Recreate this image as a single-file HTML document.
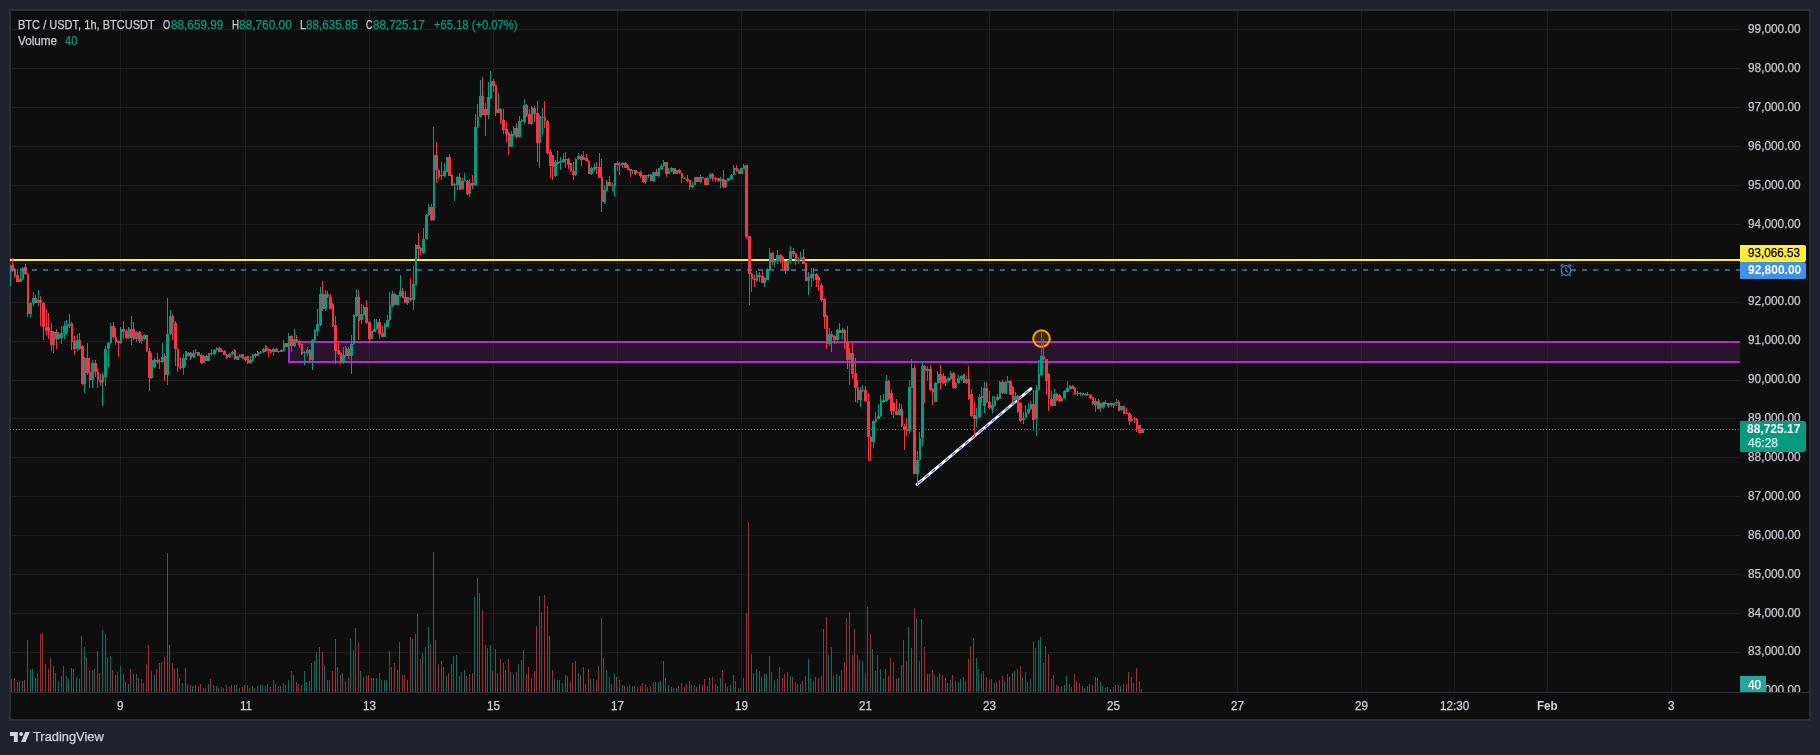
<!DOCTYPE html>
<html><head><meta charset="utf-8"><title>BTCUSDT</title>
<style>
html,body{margin:0;padding:0;background:#1e222d;}
body{width:1820px;height:755px;overflow:hidden;position:relative;font-family:"Liberation Sans",sans-serif;}
#chart{position:absolute;left:9px;top:9px;width:1798px;height:708px;border:2px solid #2a2e39;background:#0e0e0e;}
svg{position:absolute;left:0;top:0;}
#labels{position:absolute;left:0;top:0;width:1820px;height:755px;will-change:transform;}
.t{position:absolute;white-space:nowrap;font-size:12px;line-height:1.1667em;color:#d1d4dc;-webkit-text-stroke:0.25px currentColor;}
.g{color:#089981;}
.pl{position:absolute;left:1748px;font-size:12px;line-height:14px;color:#c9ccd4;white-space:nowrap;}
.tl{position:absolute;top:699px;font-size:12px;line-height:14px;color:#d1d4dc;transform:translateX(-50%);white-space:nowrap;}
.lab{position:absolute;left:1740px;width:66px;box-sizing:border-box;padding-left:8px;font-size:12px;line-height:14px;white-space:nowrap;}
</style></head><body>
<div id="chart"></div>
<svg width="1820" height="755" viewBox="0 0 1820 755" shape-rendering="crispEdges">
<rect x="11" y="29" width="1729" height="1" fill="rgba(255,255,255,0.058)"/>
<rect x="11" y="68" width="1729" height="1" fill="rgba(255,255,255,0.058)"/>
<rect x="11" y="107" width="1729" height="1" fill="rgba(255,255,255,0.058)"/>
<rect x="11" y="146" width="1729" height="1" fill="rgba(255,255,255,0.058)"/>
<rect x="11" y="185" width="1729" height="1" fill="rgba(255,255,255,0.058)"/>
<rect x="11" y="224" width="1729" height="1" fill="rgba(255,255,255,0.058)"/>
<rect x="11" y="263" width="1729" height="1" fill="rgba(255,255,255,0.058)"/>
<rect x="11" y="302" width="1729" height="1" fill="rgba(255,255,255,0.058)"/>
<rect x="11" y="341" width="1729" height="1" fill="rgba(255,255,255,0.058)"/>
<rect x="11" y="380" width="1729" height="1" fill="rgba(255,255,255,0.058)"/>
<rect x="11" y="418" width="1729" height="1" fill="rgba(255,255,255,0.058)"/>
<rect x="11" y="457" width="1729" height="1" fill="rgba(255,255,255,0.058)"/>
<rect x="11" y="496" width="1729" height="1" fill="rgba(255,255,255,0.058)"/>
<rect x="11" y="535" width="1729" height="1" fill="rgba(255,255,255,0.058)"/>
<rect x="11" y="574" width="1729" height="1" fill="rgba(255,255,255,0.058)"/>
<rect x="11" y="613" width="1729" height="1" fill="rgba(255,255,255,0.058)"/>
<rect x="11" y="652" width="1729" height="1" fill="rgba(255,255,255,0.058)"/>
<rect x="120" y="11" width="1" height="681" fill="rgba(255,255,255,0.058)"/>
<rect x="245" y="11" width="1" height="681" fill="rgba(255,255,255,0.058)"/>
<rect x="369" y="11" width="1" height="681" fill="rgba(255,255,255,0.058)"/>
<rect x="493" y="11" width="1" height="681" fill="rgba(255,255,255,0.058)"/>
<rect x="617" y="11" width="1" height="681" fill="rgba(255,255,255,0.058)"/>
<rect x="741" y="11" width="1" height="681" fill="rgba(255,255,255,0.058)"/>
<rect x="865" y="11" width="1" height="681" fill="rgba(255,255,255,0.058)"/>
<rect x="989" y="11" width="1" height="681" fill="rgba(255,255,255,0.058)"/>
<rect x="1113" y="11" width="1" height="681" fill="rgba(255,255,255,0.058)"/>
<rect x="1237" y="11" width="1" height="681" fill="rgba(255,255,255,0.058)"/>
<rect x="1361" y="11" width="1" height="681" fill="rgba(255,255,255,0.058)"/>
<rect x="1454" y="11" width="1" height="681" fill="rgba(255,255,255,0.058)"/>
<rect x="1547" y="11" width="1" height="681" fill="rgba(255,255,255,0.058)"/>
<rect x="1671" y="11" width="1" height="681" fill="rgba(255,255,255,0.058)"/>
<rect x="289" y="342" width="1451" height="20" fill="rgba(160,40,180,0.19)"/>
<rect x="288" y="341" width="1452" height="2" fill="#ad2ec4"/>
<rect x="288" y="361" width="1452" height="2" fill="#ad2ec4"/>
<rect x="288" y="341" width="2" height="22" fill="#ad2ec4"/>
<rect x="10" y="259" width="1730" height="2" fill="#ffeb3b"/>
<g shape-rendering="geometricPrecision">
<line x1="917" y1="484.4" x2="1031" y2="388.6" stroke="#ffffff" stroke-width="2.7" stroke-linecap="round"/>
<line x1="917" y1="484.4" x2="1031" y2="388.6" stroke="#3f72ff" stroke-width="1.3" stroke-dasharray="4.5 4.2" stroke-dashoffset="-2"/>
<circle cx="1041.5" cy="338.6" r="8.3" fill="rgba(255,152,0,0.20)" stroke="#ff9f0a" stroke-width="2"/>
</g>

<rect x="11" y="679" width="1" height="13" fill="#93343b"/>
<rect x="14" y="678" width="1" height="14" fill="#93343b"/>
<rect x="17" y="682" width="1" height="10" fill="#93343b"/>
<rect x="19" y="681" width="1" height="11" fill="#1a6b5f"/>
<rect x="22" y="681" width="1" height="11" fill="#1a6b5f"/>
<rect x="24" y="680" width="1" height="12" fill="#93343b"/>
<rect x="27" y="640" width="1" height="52" fill="#93343b"/>
<rect x="30" y="669" width="1" height="23" fill="#1a6b5f"/>
<rect x="32" y="669" width="1" height="23" fill="#1a6b5f"/>
<rect x="35" y="678" width="1" height="14" fill="#93343b"/>
<rect x="37" y="673" width="1" height="19" fill="#1a6b5f"/>
<rect x="40" y="634" width="1" height="58" fill="#93343b"/>
<rect x="42" y="633" width="1" height="59" fill="#93343b"/>
<rect x="45" y="664" width="1" height="28" fill="#93343b"/>
<rect x="48" y="669" width="1" height="23" fill="#93343b"/>
<rect x="50" y="658" width="1" height="34" fill="#93343b"/>
<rect x="53" y="666" width="1" height="26" fill="#1a6b5f"/>
<rect x="55" y="673" width="1" height="19" fill="#93343b"/>
<rect x="58" y="681" width="1" height="11" fill="#1a6b5f"/>
<rect x="61" y="676" width="1" height="16" fill="#1a6b5f"/>
<rect x="63" y="666" width="1" height="26" fill="#1a6b5f"/>
<rect x="66" y="676" width="1" height="16" fill="#1a6b5f"/>
<rect x="68" y="679" width="1" height="13" fill="#1a6b5f"/>
<rect x="71" y="668" width="1" height="24" fill="#93343b"/>
<rect x="73" y="669" width="1" height="23" fill="#93343b"/>
<rect x="76" y="677" width="1" height="15" fill="#1a6b5f"/>
<rect x="79" y="679" width="1" height="13" fill="#93343b"/>
<rect x="81" y="636" width="1" height="56" fill="#93343b"/>
<rect x="84" y="647" width="1" height="45" fill="#1a6b5f"/>
<rect x="86" y="657" width="1" height="35" fill="#93343b"/>
<rect x="89" y="670" width="1" height="22" fill="#93343b"/>
<rect x="92" y="670" width="1" height="22" fill="#1a6b5f"/>
<rect x="94" y="669" width="1" height="23" fill="#93343b"/>
<rect x="97" y="651" width="1" height="41" fill="#93343b"/>
<rect x="99" y="673" width="1" height="19" fill="#93343b"/>
<rect x="102" y="630" width="1" height="62" fill="#1a6b5f"/>
<rect x="105" y="634" width="1" height="58" fill="#1a6b5f"/>
<rect x="107" y="657" width="1" height="35" fill="#1a6b5f"/>
<rect x="110" y="656" width="1" height="36" fill="#1a6b5f"/>
<rect x="112" y="670" width="1" height="22" fill="#93343b"/>
<rect x="115" y="675" width="1" height="17" fill="#93343b"/>
<rect x="117" y="672" width="1" height="20" fill="#93343b"/>
<rect x="120" y="666" width="1" height="26" fill="#1a6b5f"/>
<rect x="123" y="674" width="1" height="18" fill="#93343b"/>
<rect x="125" y="682" width="1" height="10" fill="#93343b"/>
<rect x="128" y="684" width="1" height="8" fill="#1a6b5f"/>
<rect x="130" y="669" width="1" height="23" fill="#93343b"/>
<rect x="133" y="674" width="1" height="18" fill="#93343b"/>
<rect x="136" y="674" width="1" height="18" fill="#1a6b5f"/>
<rect x="138" y="678" width="1" height="14" fill="#93343b"/>
<rect x="141" y="679" width="1" height="13" fill="#1a6b5f"/>
<rect x="143" y="683" width="1" height="9" fill="#1a6b5f"/>
<rect x="146" y="664" width="1" height="28" fill="#93343b"/>
<rect x="148" y="645" width="1" height="47" fill="#93343b"/>
<rect x="151" y="671" width="1" height="21" fill="#1a6b5f"/>
<rect x="154" y="675" width="1" height="17" fill="#1a6b5f"/>
<rect x="156" y="669" width="1" height="23" fill="#93343b"/>
<rect x="159" y="663" width="1" height="29" fill="#93343b"/>
<rect x="161" y="662" width="1" height="30" fill="#1a6b5f"/>
<rect x="164" y="657" width="1" height="35" fill="#93343b"/>
<rect x="167" y="553" width="1" height="139" fill="#1a6b5f"/>
<rect x="169" y="645" width="1" height="47" fill="#1a6b5f"/>
<rect x="172" y="663" width="1" height="29" fill="#93343b"/>
<rect x="174" y="669" width="1" height="23" fill="#93343b"/>
<rect x="177" y="668" width="1" height="24" fill="#93343b"/>
<rect x="179" y="678" width="1" height="14" fill="#93343b"/>
<rect x="182" y="683" width="1" height="9" fill="#1a6b5f"/>
<rect x="185" y="668" width="1" height="24" fill="#1a6b5f"/>
<rect x="187" y="684" width="1" height="8" fill="#1a6b5f"/>
<rect x="190" y="685" width="1" height="7" fill="#93343b"/>
<rect x="192" y="686" width="1" height="6" fill="#1a6b5f"/>
<rect x="195" y="685" width="1" height="7" fill="#1a6b5f"/>
<rect x="198" y="686" width="1" height="6" fill="#93343b"/>
<rect x="200" y="684" width="1" height="8" fill="#93343b"/>
<rect x="203" y="688" width="1" height="4" fill="#1a6b5f"/>
<rect x="205" y="688" width="1" height="4" fill="#93343b"/>
<rect x="208" y="684" width="1" height="8" fill="#1a6b5f"/>
<rect x="210" y="679" width="1" height="13" fill="#93343b"/>
<rect x="213" y="685" width="1" height="7" fill="#1a6b5f"/>
<rect x="216" y="686" width="1" height="6" fill="#1a6b5f"/>
<rect x="218" y="688" width="1" height="4" fill="#93343b"/>
<rect x="221" y="687" width="1" height="5" fill="#1a6b5f"/>
<rect x="223" y="688" width="1" height="4" fill="#93343b"/>
<rect x="226" y="685" width="1" height="7" fill="#93343b"/>
<rect x="229" y="687" width="1" height="5" fill="#1a6b5f"/>
<rect x="231" y="685" width="1" height="7" fill="#1a6b5f"/>
<rect x="234" y="685" width="1" height="7" fill="#93343b"/>
<rect x="236" y="685" width="1" height="7" fill="#1a6b5f"/>
<rect x="239" y="688" width="1" height="4" fill="#1a6b5f"/>
<rect x="242" y="687" width="1" height="5" fill="#93343b"/>
<rect x="244" y="685" width="1" height="7" fill="#93343b"/>
<rect x="247" y="685" width="1" height="7" fill="#93343b"/>
<rect x="249" y="688" width="1" height="4" fill="#1a6b5f"/>
<rect x="252" y="686" width="1" height="6" fill="#1a6b5f"/>
<rect x="254" y="688" width="1" height="4" fill="#93343b"/>
<rect x="257" y="686" width="1" height="6" fill="#1a6b5f"/>
<rect x="260" y="685" width="1" height="7" fill="#1a6b5f"/>
<rect x="262" y="685" width="1" height="7" fill="#1a6b5f"/>
<rect x="265" y="686" width="1" height="6" fill="#93343b"/>
<rect x="267" y="684" width="1" height="8" fill="#93343b"/>
<rect x="270" y="687" width="1" height="5" fill="#93343b"/>
<rect x="273" y="680" width="1" height="12" fill="#1a6b5f"/>
<rect x="275" y="684" width="1" height="8" fill="#93343b"/>
<rect x="278" y="686" width="1" height="6" fill="#93343b"/>
<rect x="280" y="686" width="1" height="6" fill="#1a6b5f"/>
<rect x="283" y="683" width="1" height="9" fill="#1a6b5f"/>
<rect x="285" y="685" width="1" height="7" fill="#93343b"/>
<rect x="288" y="680" width="1" height="12" fill="#1a6b5f"/>
<rect x="291" y="671" width="1" height="21" fill="#93343b"/>
<rect x="293" y="675" width="1" height="17" fill="#1a6b5f"/>
<rect x="296" y="682" width="1" height="10" fill="#93343b"/>
<rect x="298" y="684" width="1" height="8" fill="#93343b"/>
<rect x="301" y="685" width="1" height="7" fill="#93343b"/>
<rect x="304" y="671" width="1" height="21" fill="#1a6b5f"/>
<rect x="306" y="682" width="1" height="10" fill="#1a6b5f"/>
<rect x="309" y="681" width="1" height="11" fill="#93343b"/>
<rect x="311" y="663" width="1" height="29" fill="#1a6b5f"/>
<rect x="314" y="661" width="1" height="31" fill="#1a6b5f"/>
<rect x="316" y="652" width="1" height="40" fill="#1a6b5f"/>
<rect x="319" y="647" width="1" height="45" fill="#1a6b5f"/>
<rect x="322" y="652" width="1" height="40" fill="#93343b"/>
<rect x="324" y="665" width="1" height="27" fill="#1a6b5f"/>
<rect x="327" y="680" width="1" height="12" fill="#93343b"/>
<rect x="329" y="680" width="1" height="12" fill="#93343b"/>
<rect x="332" y="671" width="1" height="21" fill="#93343b"/>
<rect x="335" y="639" width="1" height="53" fill="#93343b"/>
<rect x="337" y="667" width="1" height="25" fill="#93343b"/>
<rect x="340" y="675" width="1" height="17" fill="#93343b"/>
<rect x="342" y="673" width="1" height="19" fill="#1a6b5f"/>
<rect x="345" y="681" width="1" height="11" fill="#1a6b5f"/>
<rect x="348" y="678" width="1" height="14" fill="#93343b"/>
<rect x="350" y="639" width="1" height="53" fill="#1a6b5f"/>
<rect x="353" y="650" width="1" height="42" fill="#1a6b5f"/>
<rect x="355" y="628" width="1" height="64" fill="#1a6b5f"/>
<rect x="358" y="642" width="1" height="50" fill="#93343b"/>
<rect x="360" y="671" width="1" height="21" fill="#1a6b5f"/>
<rect x="363" y="677" width="1" height="15" fill="#1a6b5f"/>
<rect x="366" y="676" width="1" height="16" fill="#93343b"/>
<rect x="368" y="675" width="1" height="17" fill="#93343b"/>
<rect x="371" y="678" width="1" height="14" fill="#1a6b5f"/>
<rect x="373" y="678" width="1" height="14" fill="#1a6b5f"/>
<rect x="376" y="678" width="1" height="14" fill="#1a6b5f"/>
<rect x="379" y="673" width="1" height="19" fill="#93343b"/>
<rect x="381" y="680" width="1" height="12" fill="#93343b"/>
<rect x="384" y="680" width="1" height="12" fill="#1a6b5f"/>
<rect x="386" y="680" width="1" height="12" fill="#1a6b5f"/>
<rect x="389" y="651" width="1" height="41" fill="#1a6b5f"/>
<rect x="391" y="667" width="1" height="25" fill="#1a6b5f"/>
<rect x="394" y="663" width="1" height="29" fill="#93343b"/>
<rect x="397" y="670" width="1" height="22" fill="#1a6b5f"/>
<rect x="399" y="642" width="1" height="50" fill="#1a6b5f"/>
<rect x="402" y="675" width="1" height="17" fill="#93343b"/>
<rect x="404" y="675" width="1" height="17" fill="#93343b"/>
<rect x="407" y="680" width="1" height="12" fill="#1a6b5f"/>
<rect x="410" y="637" width="1" height="55" fill="#93343b"/>
<rect x="412" y="639" width="1" height="53" fill="#1a6b5f"/>
<rect x="415" y="634" width="1" height="58" fill="#1a6b5f"/>
<rect x="417" y="614" width="1" height="78" fill="#93343b"/>
<rect x="420" y="659" width="1" height="33" fill="#93343b"/>
<rect x="422" y="653" width="1" height="39" fill="#1a6b5f"/>
<rect x="425" y="647" width="1" height="45" fill="#1a6b5f"/>
<rect x="428" y="627" width="1" height="65" fill="#1a6b5f"/>
<rect x="430" y="644" width="1" height="48" fill="#93343b"/>
<rect x="433" y="552" width="1" height="140" fill="#1a6b5f"/>
<rect x="435" y="640" width="1" height="52" fill="#93343b"/>
<rect x="438" y="664" width="1" height="28" fill="#93343b"/>
<rect x="441" y="661" width="1" height="31" fill="#1a6b5f"/>
<rect x="443" y="667" width="1" height="25" fill="#1a6b5f"/>
<rect x="446" y="676" width="1" height="16" fill="#1a6b5f"/>
<rect x="448" y="673" width="1" height="19" fill="#93343b"/>
<rect x="451" y="664" width="1" height="28" fill="#93343b"/>
<rect x="453" y="656" width="1" height="36" fill="#1a6b5f"/>
<rect x="456" y="655" width="1" height="37" fill="#1a6b5f"/>
<rect x="459" y="676" width="1" height="16" fill="#93343b"/>
<rect x="461" y="672" width="1" height="20" fill="#1a6b5f"/>
<rect x="464" y="670" width="1" height="22" fill="#1a6b5f"/>
<rect x="466" y="676" width="1" height="16" fill="#93343b"/>
<rect x="469" y="674" width="1" height="18" fill="#1a6b5f"/>
<rect x="472" y="673" width="1" height="19" fill="#93343b"/>
<rect x="474" y="597" width="1" height="95" fill="#1a6b5f"/>
<rect x="477" y="578" width="1" height="114" fill="#1a6b5f"/>
<rect x="479" y="593" width="1" height="99" fill="#1a6b5f"/>
<rect x="482" y="610" width="1" height="82" fill="#93343b"/>
<rect x="485" y="645" width="1" height="47" fill="#93343b"/>
<rect x="487" y="648" width="1" height="44" fill="#1a6b5f"/>
<rect x="490" y="645" width="1" height="47" fill="#1a6b5f"/>
<rect x="492" y="671" width="1" height="21" fill="#93343b"/>
<rect x="495" y="649" width="1" height="43" fill="#93343b"/>
<rect x="497" y="673" width="1" height="19" fill="#1a6b5f"/>
<rect x="500" y="659" width="1" height="33" fill="#93343b"/>
<rect x="503" y="663" width="1" height="29" fill="#93343b"/>
<rect x="505" y="670" width="1" height="22" fill="#93343b"/>
<rect x="508" y="659" width="1" height="33" fill="#93343b"/>
<rect x="510" y="672" width="1" height="20" fill="#1a6b5f"/>
<rect x="513" y="674" width="1" height="18" fill="#1a6b5f"/>
<rect x="516" y="672" width="1" height="20" fill="#93343b"/>
<rect x="518" y="664" width="1" height="28" fill="#1a6b5f"/>
<rect x="521" y="660" width="1" height="32" fill="#1a6b5f"/>
<rect x="523" y="650" width="1" height="42" fill="#1a6b5f"/>
<rect x="526" y="674" width="1" height="18" fill="#93343b"/>
<rect x="528" y="667" width="1" height="25" fill="#93343b"/>
<rect x="531" y="678" width="1" height="14" fill="#1a6b5f"/>
<rect x="534" y="671" width="1" height="21" fill="#93343b"/>
<rect x="536" y="626" width="1" height="66" fill="#93343b"/>
<rect x="539" y="596" width="1" height="96" fill="#1a6b5f"/>
<rect x="541" y="612" width="1" height="80" fill="#1a6b5f"/>
<rect x="544" y="595" width="1" height="97" fill="#93343b"/>
<rect x="547" y="606" width="1" height="86" fill="#93343b"/>
<rect x="549" y="636" width="1" height="56" fill="#93343b"/>
<rect x="552" y="670" width="1" height="22" fill="#93343b"/>
<rect x="554" y="679" width="1" height="13" fill="#1a6b5f"/>
<rect x="557" y="680" width="1" height="12" fill="#93343b"/>
<rect x="559" y="680" width="1" height="12" fill="#1a6b5f"/>
<rect x="562" y="683" width="1" height="9" fill="#1a6b5f"/>
<rect x="565" y="675" width="1" height="17" fill="#1a6b5f"/>
<rect x="567" y="676" width="1" height="16" fill="#93343b"/>
<rect x="570" y="682" width="1" height="10" fill="#93343b"/>
<rect x="572" y="663" width="1" height="29" fill="#93343b"/>
<rect x="575" y="661" width="1" height="31" fill="#1a6b5f"/>
<rect x="578" y="673" width="1" height="19" fill="#1a6b5f"/>
<rect x="580" y="675" width="1" height="17" fill="#93343b"/>
<rect x="583" y="667" width="1" height="25" fill="#1a6b5f"/>
<rect x="585" y="684" width="1" height="8" fill="#93343b"/>
<rect x="588" y="669" width="1" height="23" fill="#93343b"/>
<rect x="590" y="679" width="1" height="13" fill="#1a6b5f"/>
<rect x="593" y="679" width="1" height="13" fill="#1a6b5f"/>
<rect x="596" y="680" width="1" height="12" fill="#93343b"/>
<rect x="598" y="666" width="1" height="26" fill="#93343b"/>
<rect x="601" y="618" width="1" height="74" fill="#93343b"/>
<rect x="603" y="658" width="1" height="34" fill="#1a6b5f"/>
<rect x="606" y="670" width="1" height="22" fill="#1a6b5f"/>
<rect x="609" y="677" width="1" height="15" fill="#93343b"/>
<rect x="611" y="684" width="1" height="8" fill="#1a6b5f"/>
<rect x="614" y="674" width="1" height="18" fill="#1a6b5f"/>
<rect x="616" y="677" width="1" height="15" fill="#93343b"/>
<rect x="619" y="680" width="1" height="12" fill="#93343b"/>
<rect x="622" y="685" width="1" height="7" fill="#1a6b5f"/>
<rect x="624" y="686" width="1" height="6" fill="#93343b"/>
<rect x="627" y="687" width="1" height="5" fill="#93343b"/>
<rect x="629" y="685" width="1" height="7" fill="#93343b"/>
<rect x="632" y="686" width="1" height="6" fill="#1a6b5f"/>
<rect x="634" y="686" width="1" height="6" fill="#93343b"/>
<rect x="637" y="687" width="1" height="5" fill="#1a6b5f"/>
<rect x="640" y="686" width="1" height="6" fill="#93343b"/>
<rect x="642" y="683" width="1" height="9" fill="#93343b"/>
<rect x="645" y="684" width="1" height="8" fill="#1a6b5f"/>
<rect x="647" y="687" width="1" height="5" fill="#1a6b5f"/>
<rect x="650" y="686" width="1" height="6" fill="#93343b"/>
<rect x="653" y="682" width="1" height="10" fill="#1a6b5f"/>
<rect x="655" y="682" width="1" height="10" fill="#93343b"/>
<rect x="658" y="682" width="1" height="10" fill="#1a6b5f"/>
<rect x="660" y="681" width="1" height="11" fill="#1a6b5f"/>
<rect x="663" y="661" width="1" height="31" fill="#1a6b5f"/>
<rect x="665" y="678" width="1" height="14" fill="#93343b"/>
<rect x="668" y="685" width="1" height="7" fill="#1a6b5f"/>
<rect x="671" y="687" width="1" height="5" fill="#1a6b5f"/>
<rect x="673" y="688" width="1" height="4" fill="#93343b"/>
<rect x="676" y="688" width="1" height="4" fill="#1a6b5f"/>
<rect x="678" y="686" width="1" height="6" fill="#93343b"/>
<rect x="681" y="683" width="1" height="9" fill="#93343b"/>
<rect x="684" y="687" width="1" height="5" fill="#93343b"/>
<rect x="686" y="684" width="1" height="8" fill="#93343b"/>
<rect x="689" y="681" width="1" height="11" fill="#93343b"/>
<rect x="691" y="685" width="1" height="7" fill="#1a6b5f"/>
<rect x="694" y="685" width="1" height="7" fill="#1a6b5f"/>
<rect x="696" y="687" width="1" height="5" fill="#93343b"/>
<rect x="699" y="684" width="1" height="8" fill="#1a6b5f"/>
<rect x="702" y="685" width="1" height="7" fill="#93343b"/>
<rect x="704" y="679" width="1" height="13" fill="#93343b"/>
<rect x="707" y="686" width="1" height="6" fill="#1a6b5f"/>
<rect x="709" y="678" width="1" height="14" fill="#1a6b5f"/>
<rect x="712" y="677" width="1" height="15" fill="#93343b"/>
<rect x="715" y="684" width="1" height="8" fill="#93343b"/>
<rect x="717" y="686" width="1" height="6" fill="#93343b"/>
<rect x="720" y="678" width="1" height="14" fill="#1a6b5f"/>
<rect x="722" y="670" width="1" height="22" fill="#93343b"/>
<rect x="725" y="683" width="1" height="9" fill="#1a6b5f"/>
<rect x="727" y="687" width="1" height="5" fill="#1a6b5f"/>
<rect x="730" y="685" width="1" height="7" fill="#1a6b5f"/>
<rect x="733" y="675" width="1" height="17" fill="#1a6b5f"/>
<rect x="735" y="681" width="1" height="11" fill="#93343b"/>
<rect x="738" y="688" width="1" height="4" fill="#93343b"/>
<rect x="740" y="688" width="1" height="4" fill="#1a6b5f"/>
<rect x="743" y="678" width="1" height="14" fill="#1a6b5f"/>
<rect x="746" y="613" width="1" height="79" fill="#93343b"/>
<rect x="748" y="522" width="1" height="170" fill="#93343b"/>
<rect x="751" y="654" width="1" height="38" fill="#93343b"/>
<rect x="753" y="673" width="1" height="19" fill="#93343b"/>
<rect x="756" y="669" width="1" height="23" fill="#1a6b5f"/>
<rect x="759" y="671" width="1" height="21" fill="#93343b"/>
<rect x="761" y="677" width="1" height="15" fill="#93343b"/>
<rect x="764" y="674" width="1" height="18" fill="#1a6b5f"/>
<rect x="766" y="674" width="1" height="18" fill="#1a6b5f"/>
<rect x="769" y="656" width="1" height="36" fill="#1a6b5f"/>
<rect x="771" y="672" width="1" height="20" fill="#93343b"/>
<rect x="774" y="680" width="1" height="12" fill="#1a6b5f"/>
<rect x="777" y="679" width="1" height="13" fill="#1a6b5f"/>
<rect x="779" y="667" width="1" height="25" fill="#93343b"/>
<rect x="782" y="678" width="1" height="14" fill="#93343b"/>
<rect x="784" y="674" width="1" height="18" fill="#93343b"/>
<rect x="787" y="672" width="1" height="20" fill="#1a6b5f"/>
<rect x="790" y="676" width="1" height="16" fill="#1a6b5f"/>
<rect x="792" y="677" width="1" height="15" fill="#93343b"/>
<rect x="795" y="682" width="1" height="10" fill="#93343b"/>
<rect x="797" y="684" width="1" height="8" fill="#1a6b5f"/>
<rect x="800" y="684" width="1" height="8" fill="#1a6b5f"/>
<rect x="802" y="681" width="1" height="11" fill="#93343b"/>
<rect x="805" y="676" width="1" height="16" fill="#93343b"/>
<rect x="808" y="659" width="1" height="33" fill="#1a6b5f"/>
<rect x="810" y="678" width="1" height="14" fill="#1a6b5f"/>
<rect x="813" y="681" width="1" height="11" fill="#93343b"/>
<rect x="815" y="677" width="1" height="15" fill="#93343b"/>
<rect x="818" y="678" width="1" height="14" fill="#93343b"/>
<rect x="821" y="676" width="1" height="16" fill="#93343b"/>
<rect x="823" y="629" width="1" height="63" fill="#93343b"/>
<rect x="826" y="617" width="1" height="75" fill="#93343b"/>
<rect x="828" y="655" width="1" height="37" fill="#1a6b5f"/>
<rect x="831" y="647" width="1" height="45" fill="#93343b"/>
<rect x="833" y="676" width="1" height="16" fill="#93343b"/>
<rect x="836" y="674" width="1" height="18" fill="#1a6b5f"/>
<rect x="839" y="676" width="1" height="16" fill="#93343b"/>
<rect x="841" y="670" width="1" height="22" fill="#1a6b5f"/>
<rect x="844" y="662" width="1" height="30" fill="#93343b"/>
<rect x="846" y="618" width="1" height="74" fill="#93343b"/>
<rect x="849" y="612" width="1" height="80" fill="#1a6b5f"/>
<rect x="852" y="655" width="1" height="37" fill="#93343b"/>
<rect x="854" y="629" width="1" height="63" fill="#93343b"/>
<rect x="857" y="655" width="1" height="37" fill="#93343b"/>
<rect x="859" y="660" width="1" height="32" fill="#1a6b5f"/>
<rect x="862" y="661" width="1" height="31" fill="#1a6b5f"/>
<rect x="865" y="673" width="1" height="19" fill="#93343b"/>
<rect x="867" y="607" width="1" height="85" fill="#93343b"/>
<rect x="870" y="634" width="1" height="58" fill="#93343b"/>
<rect x="872" y="649" width="1" height="43" fill="#1a6b5f"/>
<rect x="875" y="671" width="1" height="21" fill="#1a6b5f"/>
<rect x="877" y="655" width="1" height="37" fill="#1a6b5f"/>
<rect x="880" y="669" width="1" height="23" fill="#1a6b5f"/>
<rect x="883" y="679" width="1" height="13" fill="#1a6b5f"/>
<rect x="885" y="669" width="1" height="23" fill="#1a6b5f"/>
<rect x="888" y="676" width="1" height="16" fill="#93343b"/>
<rect x="890" y="658" width="1" height="34" fill="#93343b"/>
<rect x="893" y="662" width="1" height="30" fill="#93343b"/>
<rect x="896" y="679" width="1" height="13" fill="#93343b"/>
<rect x="898" y="678" width="1" height="14" fill="#1a6b5f"/>
<rect x="901" y="665" width="1" height="27" fill="#93343b"/>
<rect x="903" y="640" width="1" height="52" fill="#93343b"/>
<rect x="906" y="661" width="1" height="31" fill="#93343b"/>
<rect x="908" y="627" width="1" height="65" fill="#1a6b5f"/>
<rect x="911" y="648" width="1" height="44" fill="#1a6b5f"/>
<rect x="914" y="608" width="1" height="84" fill="#93343b"/>
<rect x="916" y="618" width="1" height="74" fill="#1a6b5f"/>
<rect x="919" y="661" width="1" height="31" fill="#1a6b5f"/>
<rect x="921" y="619" width="1" height="73" fill="#1a6b5f"/>
<rect x="924" y="647" width="1" height="45" fill="#93343b"/>
<rect x="927" y="674" width="1" height="18" fill="#1a6b5f"/>
<rect x="929" y="674" width="1" height="18" fill="#93343b"/>
<rect x="932" y="670" width="1" height="22" fill="#93343b"/>
<rect x="934" y="675" width="1" height="17" fill="#1a6b5f"/>
<rect x="937" y="677" width="1" height="15" fill="#1a6b5f"/>
<rect x="939" y="673" width="1" height="19" fill="#93343b"/>
<rect x="942" y="675" width="1" height="17" fill="#93343b"/>
<rect x="945" y="678" width="1" height="14" fill="#1a6b5f"/>
<rect x="947" y="683" width="1" height="9" fill="#1a6b5f"/>
<rect x="950" y="680" width="1" height="12" fill="#1a6b5f"/>
<rect x="952" y="675" width="1" height="17" fill="#93343b"/>
<rect x="955" y="681" width="1" height="11" fill="#1a6b5f"/>
<rect x="958" y="682" width="1" height="10" fill="#1a6b5f"/>
<rect x="960" y="679" width="1" height="13" fill="#1a6b5f"/>
<rect x="963" y="677" width="1" height="15" fill="#93343b"/>
<rect x="965" y="681" width="1" height="11" fill="#1a6b5f"/>
<rect x="968" y="659" width="1" height="33" fill="#93343b"/>
<rect x="970" y="646" width="1" height="46" fill="#93343b"/>
<rect x="973" y="638" width="1" height="54" fill="#93343b"/>
<rect x="976" y="658" width="1" height="34" fill="#1a6b5f"/>
<rect x="978" y="669" width="1" height="23" fill="#1a6b5f"/>
<rect x="981" y="673" width="1" height="19" fill="#93343b"/>
<rect x="983" y="671" width="1" height="21" fill="#1a6b5f"/>
<rect x="986" y="677" width="1" height="15" fill="#93343b"/>
<rect x="989" y="680" width="1" height="12" fill="#93343b"/>
<rect x="991" y="679" width="1" height="13" fill="#1a6b5f"/>
<rect x="994" y="683" width="1" height="9" fill="#1a6b5f"/>
<rect x="996" y="682" width="1" height="10" fill="#93343b"/>
<rect x="999" y="680" width="1" height="12" fill="#1a6b5f"/>
<rect x="1002" y="676" width="1" height="16" fill="#93343b"/>
<rect x="1004" y="681" width="1" height="11" fill="#1a6b5f"/>
<rect x="1007" y="674" width="1" height="18" fill="#1a6b5f"/>
<rect x="1009" y="677" width="1" height="15" fill="#93343b"/>
<rect x="1012" y="673" width="1" height="19" fill="#93343b"/>
<rect x="1014" y="671" width="1" height="21" fill="#1a6b5f"/>
<rect x="1017" y="669" width="1" height="23" fill="#93343b"/>
<rect x="1020" y="666" width="1" height="26" fill="#93343b"/>
<rect x="1022" y="678" width="1" height="14" fill="#1a6b5f"/>
<rect x="1025" y="672" width="1" height="20" fill="#1a6b5f"/>
<rect x="1027" y="682" width="1" height="10" fill="#1a6b5f"/>
<rect x="1030" y="679" width="1" height="13" fill="#1a6b5f"/>
<rect x="1033" y="641" width="1" height="51" fill="#93343b"/>
<rect x="1035" y="648" width="1" height="44" fill="#1a6b5f"/>
<rect x="1038" y="640" width="1" height="52" fill="#1a6b5f"/>
<rect x="1040" y="637" width="1" height="55" fill="#1a6b5f"/>
<rect x="1043" y="663" width="1" height="29" fill="#93343b"/>
<rect x="1045" y="646" width="1" height="46" fill="#93343b"/>
<rect x="1048" y="654" width="1" height="38" fill="#93343b"/>
<rect x="1051" y="679" width="1" height="13" fill="#93343b"/>
<rect x="1053" y="675" width="1" height="17" fill="#1a6b5f"/>
<rect x="1056" y="685" width="1" height="7" fill="#93343b"/>
<rect x="1058" y="686" width="1" height="6" fill="#93343b"/>
<rect x="1061" y="686" width="1" height="6" fill="#1a6b5f"/>
<rect x="1064" y="685" width="1" height="7" fill="#1a6b5f"/>
<rect x="1066" y="676" width="1" height="16" fill="#1a6b5f"/>
<rect x="1069" y="684" width="1" height="8" fill="#1a6b5f"/>
<rect x="1071" y="687" width="1" height="5" fill="#93343b"/>
<rect x="1074" y="674" width="1" height="18" fill="#93343b"/>
<rect x="1076" y="681" width="1" height="11" fill="#93343b"/>
<rect x="1079" y="683" width="1" height="9" fill="#1a6b5f"/>
<rect x="1082" y="686" width="1" height="6" fill="#93343b"/>
<rect x="1084" y="688" width="1" height="4" fill="#1a6b5f"/>
<rect x="1087" y="686" width="1" height="6" fill="#93343b"/>
<rect x="1089" y="684" width="1" height="8" fill="#93343b"/>
<rect x="1092" y="685" width="1" height="7" fill="#93343b"/>
<rect x="1095" y="677" width="1" height="15" fill="#1a6b5f"/>
<rect x="1097" y="678" width="1" height="14" fill="#93343b"/>
<rect x="1100" y="682" width="1" height="10" fill="#1a6b5f"/>
<rect x="1102" y="686" width="1" height="6" fill="#1a6b5f"/>
<rect x="1105" y="688" width="1" height="4" fill="#93343b"/>
<rect x="1107" y="687" width="1" height="5" fill="#93343b"/>
<rect x="1110" y="689" width="1" height="3" fill="#1a6b5f"/>
<rect x="1113" y="687" width="1" height="5" fill="#1a6b5f"/>
<rect x="1115" y="685" width="1" height="7" fill="#1a6b5f"/>
<rect x="1118" y="685" width="1" height="7" fill="#93343b"/>
<rect x="1120" y="686" width="1" height="6" fill="#1a6b5f"/>
<rect x="1123" y="684" width="1" height="8" fill="#93343b"/>
<rect x="1126" y="684" width="1" height="8" fill="#93343b"/>
<rect x="1128" y="672" width="1" height="20" fill="#93343b"/>
<rect x="1131" y="677" width="1" height="15" fill="#1a6b5f"/>
<rect x="1133" y="683" width="1" height="9" fill="#93343b"/>
<rect x="1136" y="668" width="1" height="24" fill="#93343b"/>
<rect x="1139" y="681" width="1" height="11" fill="#93343b"/>
<rect x="1141" y="689" width="1" height="3" fill="#1a6b5f"/>
<rect x="12" y="258" width="1" height="14" fill="#f23645"/>
<rect x="11" y="265" width="3" height="5" fill="#f23645"/>
<rect x="14" y="268" width="1" height="10" fill="#f23645"/>
<rect x="14" y="269" width="2" height="7" fill="#f23645"/>
<rect x="17" y="269" width="1" height="13" fill="#f23645"/>
<rect x="16" y="275" width="3" height="7" fill="#f23645"/>
<rect x="20" y="268" width="1" height="14" fill="#089981"/>
<rect x="19" y="279" width="3" height="3" fill="#089981"/>
<rect x="22" y="267" width="1" height="13" fill="#089981"/>
<rect x="22" y="268" width="2" height="11" fill="#089981"/>
<rect x="25" y="264" width="1" height="11" fill="#f23645"/>
<rect x="24" y="267" width="3" height="7" fill="#f23645"/>
<rect x="27" y="273" width="1" height="44" fill="#f23645"/>
<rect x="27" y="274" width="2" height="40" fill="#f23645"/>
<rect x="30" y="302" width="1" height="15" fill="#089981"/>
<rect x="29" y="303" width="3" height="11" fill="#089981"/>
<rect x="33" y="292" width="1" height="14" fill="#089981"/>
<rect x="32" y="298" width="3" height="5" fill="#089981"/>
<rect x="35" y="295" width="1" height="8" fill="#f23645"/>
<rect x="35" y="298" width="2" height="5" fill="#f23645"/>
<rect x="38" y="290" width="1" height="16" fill="#089981"/>
<rect x="37" y="300" width="3" height="3" fill="#089981"/>
<rect x="40" y="296" width="1" height="30" fill="#f23645"/>
<rect x="40" y="300" width="2" height="3" fill="#f23645"/>
<rect x="43" y="302" width="1" height="38" fill="#f23645"/>
<rect x="42" y="303" width="3" height="24" fill="#f23645"/>
<rect x="46" y="309" width="1" height="26" fill="#f23645"/>
<rect x="45" y="327" width="3" height="4" fill="#f23645"/>
<rect x="48" y="313" width="1" height="26" fill="#f23645"/>
<rect x="48" y="327" width="2" height="5" fill="#f23645"/>
<rect x="51" y="323" width="1" height="28" fill="#f23645"/>
<rect x="50" y="331" width="3" height="14" fill="#f23645"/>
<rect x="53" y="331" width="1" height="22" fill="#089981"/>
<rect x="53" y="332" width="2" height="13" fill="#089981"/>
<rect x="56" y="329" width="1" height="20" fill="#f23645"/>
<rect x="55" y="332" width="3" height="7" fill="#f23645"/>
<rect x="58" y="332" width="1" height="8" fill="#089981"/>
<rect x="58" y="334" width="2" height="5" fill="#089981"/>
<rect x="61" y="326" width="1" height="18" fill="#089981"/>
<rect x="60" y="333" width="3" height="5" fill="#089981"/>
<rect x="64" y="321" width="1" height="18" fill="#089981"/>
<rect x="63" y="326" width="3" height="8" fill="#089981"/>
<rect x="66" y="320" width="1" height="15" fill="#089981"/>
<rect x="66" y="325" width="2" height="7" fill="#089981"/>
<rect x="69" y="314" width="1" height="14" fill="#089981"/>
<rect x="68" y="324" width="3" height="2" fill="#089981"/>
<rect x="71" y="322" width="1" height="28" fill="#f23645"/>
<rect x="71" y="323" width="2" height="19" fill="#f23645"/>
<rect x="74" y="336" width="1" height="19" fill="#f23645"/>
<rect x="73" y="341" width="3" height="8" fill="#f23645"/>
<rect x="77" y="334" width="1" height="17" fill="#089981"/>
<rect x="76" y="340" width="3" height="9" fill="#089981"/>
<rect x="79" y="333" width="1" height="17" fill="#f23645"/>
<rect x="79" y="340" width="2" height="9" fill="#f23645"/>
<rect x="82" y="345" width="1" height="40" fill="#f23645"/>
<rect x="81" y="346" width="3" height="38" fill="#f23645"/>
<rect x="84" y="357" width="1" height="36" fill="#089981"/>
<rect x="84" y="358" width="2" height="26" fill="#089981"/>
<rect x="87" y="343" width="1" height="32" fill="#f23645"/>
<rect x="86" y="358" width="3" height="15" fill="#f23645"/>
<rect x="89" y="358" width="1" height="30" fill="#f23645"/>
<rect x="89" y="372" width="2" height="8" fill="#f23645"/>
<rect x="92" y="360" width="1" height="28" fill="#089981"/>
<rect x="91" y="363" width="3" height="17" fill="#089981"/>
<rect x="95" y="360" width="1" height="17" fill="#f23645"/>
<rect x="94" y="363" width="3" height="9" fill="#f23645"/>
<rect x="97" y="369" width="1" height="19" fill="#f23645"/>
<rect x="97" y="372" width="2" height="8" fill="#f23645"/>
<rect x="100" y="374" width="1" height="12" fill="#f23645"/>
<rect x="99" y="380" width="3" height="2" fill="#f23645"/>
<rect x="102" y="373" width="1" height="33" fill="#089981"/>
<rect x="102" y="375" width="2" height="7" fill="#089981"/>
<rect x="105" y="346" width="1" height="40" fill="#089981"/>
<rect x="104" y="349" width="3" height="28" fill="#089981"/>
<rect x="108" y="342" width="1" height="25" fill="#089981"/>
<rect x="107" y="343" width="3" height="6" fill="#089981"/>
<rect x="110" y="323" width="1" height="21" fill="#089981"/>
<rect x="110" y="326" width="2" height="17" fill="#089981"/>
<rect x="113" y="322" width="1" height="17" fill="#f23645"/>
<rect x="112" y="326" width="3" height="11" fill="#f23645"/>
<rect x="115" y="328" width="1" height="17" fill="#f23645"/>
<rect x="115" y="337" width="2" height="5" fill="#f23645"/>
<rect x="118" y="340" width="1" height="17" fill="#f23645"/>
<rect x="117" y="341" width="3" height="2" fill="#f23645"/>
<rect x="120" y="327" width="1" height="17" fill="#089981"/>
<rect x="120" y="329" width="2" height="14" fill="#089981"/>
<rect x="123" y="321" width="1" height="18" fill="#f23645"/>
<rect x="122" y="329" width="3" height="3" fill="#f23645"/>
<rect x="126" y="329" width="1" height="10" fill="#f23645"/>
<rect x="125" y="331" width="3" height="7" fill="#f23645"/>
<rect x="128" y="327" width="1" height="12" fill="#089981"/>
<rect x="128" y="329" width="2" height="9" fill="#089981"/>
<rect x="131" y="316" width="1" height="29" fill="#f23645"/>
<rect x="130" y="329" width="3" height="9" fill="#f23645"/>
<rect x="133" y="322" width="1" height="18" fill="#f23645"/>
<rect x="133" y="329" width="2" height="10" fill="#f23645"/>
<rect x="136" y="331" width="1" height="11" fill="#089981"/>
<rect x="135" y="332" width="3" height="7" fill="#089981"/>
<rect x="139" y="331" width="1" height="12" fill="#f23645"/>
<rect x="138" y="332" width="3" height="9" fill="#f23645"/>
<rect x="141" y="335" width="1" height="9" fill="#089981"/>
<rect x="141" y="336" width="2" height="5" fill="#089981"/>
<rect x="144" y="334" width="1" height="6" fill="#089981"/>
<rect x="143" y="335" width="3" height="4" fill="#089981"/>
<rect x="146" y="335" width="1" height="17" fill="#f23645"/>
<rect x="146" y="335" width="2" height="16" fill="#f23645"/>
<rect x="149" y="348" width="1" height="43" fill="#f23645"/>
<rect x="148" y="351" width="3" height="27" fill="#f23645"/>
<rect x="151" y="353" width="1" height="26" fill="#089981"/>
<rect x="151" y="360" width="2" height="18" fill="#089981"/>
<rect x="154" y="358" width="1" height="10" fill="#089981"/>
<rect x="153" y="360" width="3" height="7" fill="#089981"/>
<rect x="157" y="353" width="1" height="11" fill="#f23645"/>
<rect x="156" y="360" width="3" height="2" fill="#f23645"/>
<rect x="159" y="359" width="1" height="10" fill="#f23645"/>
<rect x="159" y="361" width="2" height="1" fill="#f23645"/>
<rect x="162" y="343" width="1" height="20" fill="#089981"/>
<rect x="161" y="357" width="3" height="5" fill="#089981"/>
<rect x="164" y="353" width="1" height="28" fill="#f23645"/>
<rect x="164" y="356" width="2" height="19" fill="#f23645"/>
<rect x="167" y="298" width="1" height="87" fill="#089981"/>
<rect x="166" y="334" width="3" height="41" fill="#089981"/>
<rect x="170" y="310" width="1" height="25" fill="#089981"/>
<rect x="169" y="316" width="3" height="18" fill="#089981"/>
<rect x="172" y="314" width="1" height="26" fill="#f23645"/>
<rect x="172" y="316" width="2" height="7" fill="#f23645"/>
<rect x="175" y="321" width="1" height="45" fill="#f23645"/>
<rect x="174" y="323" width="3" height="26" fill="#f23645"/>
<rect x="177" y="348" width="1" height="24" fill="#f23645"/>
<rect x="177" y="349" width="2" height="18" fill="#f23645"/>
<rect x="180" y="357" width="1" height="13" fill="#f23645"/>
<rect x="179" y="367" width="3" height="1" fill="#f23645"/>
<rect x="183" y="354" width="1" height="21" fill="#089981"/>
<rect x="182" y="358" width="3" height="10" fill="#089981"/>
<rect x="185" y="351" width="1" height="15" fill="#089981"/>
<rect x="185" y="351" width="2" height="9" fill="#089981"/>
<rect x="188" y="352" width="1" height="4" fill="#089981"/>
<rect x="187" y="353" width="3" height="3" fill="#089981"/>
<rect x="190" y="352" width="1" height="8" fill="#f23645"/>
<rect x="190" y="353" width="2" height="5" fill="#f23645"/>
<rect x="193" y="350" width="1" height="8" fill="#089981"/>
<rect x="192" y="353" width="3" height="4" fill="#089981"/>
<rect x="195" y="349" width="1" height="5" fill="#089981"/>
<rect x="195" y="352" width="2" height="1" fill="#089981"/>
<rect x="198" y="352" width="1" height="4" fill="#f23645"/>
<rect x="197" y="352" width="3" height="4" fill="#f23645"/>
<rect x="201" y="354" width="1" height="10" fill="#f23645"/>
<rect x="200" y="355" width="3" height="8" fill="#f23645"/>
<rect x="203" y="355" width="1" height="8" fill="#089981"/>
<rect x="203" y="356" width="2" height="7" fill="#089981"/>
<rect x="206" y="355" width="1" height="6" fill="#f23645"/>
<rect x="205" y="356" width="3" height="5" fill="#f23645"/>
<rect x="208" y="353" width="1" height="8" fill="#089981"/>
<rect x="208" y="353" width="2" height="8" fill="#089981"/>
<rect x="211" y="349" width="1" height="7" fill="#f23645"/>
<rect x="210" y="353" width="3" height="1" fill="#f23645"/>
<rect x="214" y="349" width="1" height="6" fill="#089981"/>
<rect x="213" y="350" width="3" height="4" fill="#089981"/>
<rect x="216" y="347" width="1" height="4" fill="#089981"/>
<rect x="216" y="348" width="2" height="2" fill="#089981"/>
<rect x="219" y="347" width="1" height="5" fill="#f23645"/>
<rect x="218" y="348" width="3" height="4" fill="#f23645"/>
<rect x="221" y="349" width="1" height="3" fill="#089981"/>
<rect x="221" y="350" width="2" height="2" fill="#089981"/>
<rect x="224" y="350" width="1" height="5" fill="#f23645"/>
<rect x="223" y="351" width="3" height="4" fill="#f23645"/>
<rect x="226" y="354" width="1" height="5" fill="#f23645"/>
<rect x="226" y="355" width="2" height="3" fill="#f23645"/>
<rect x="229" y="353" width="1" height="5" fill="#089981"/>
<rect x="228" y="354" width="3" height="3" fill="#089981"/>
<rect x="232" y="351" width="1" height="4" fill="#089981"/>
<rect x="231" y="352" width="3" height="2" fill="#089981"/>
<rect x="234" y="349" width="1" height="11" fill="#f23645"/>
<rect x="234" y="350" width="2" height="9" fill="#f23645"/>
<rect x="237" y="356" width="1" height="4" fill="#089981"/>
<rect x="236" y="356" width="3" height="4" fill="#089981"/>
<rect x="239" y="354" width="1" height="3" fill="#089981"/>
<rect x="239" y="355" width="2" height="2" fill="#089981"/>
<rect x="242" y="354" width="1" height="5" fill="#f23645"/>
<rect x="241" y="354" width="3" height="4" fill="#f23645"/>
<rect x="245" y="356" width="1" height="5" fill="#f23645"/>
<rect x="244" y="357" width="3" height="3" fill="#f23645"/>
<rect x="247" y="356" width="1" height="8" fill="#f23645"/>
<rect x="247" y="356" width="2" height="7" fill="#f23645"/>
<rect x="250" y="356" width="1" height="8" fill="#089981"/>
<rect x="249" y="360" width="3" height="3" fill="#089981"/>
<rect x="252" y="354" width="1" height="7" fill="#089981"/>
<rect x="252" y="355" width="2" height="6" fill="#089981"/>
<rect x="255" y="353" width="1" height="5" fill="#f23645"/>
<rect x="254" y="354" width="3" height="2" fill="#f23645"/>
<rect x="257" y="351" width="1" height="5" fill="#089981"/>
<rect x="257" y="352" width="2" height="4" fill="#089981"/>
<rect x="260" y="351" width="1" height="3" fill="#089981"/>
<rect x="259" y="352" width="3" height="1" fill="#089981"/>
<rect x="263" y="348" width="1" height="5" fill="#089981"/>
<rect x="262" y="349" width="3" height="3" fill="#089981"/>
<rect x="265" y="345" width="1" height="7" fill="#f23645"/>
<rect x="265" y="346" width="2" height="5" fill="#f23645"/>
<rect x="268" y="348" width="1" height="9" fill="#f23645"/>
<rect x="267" y="349" width="3" height="2" fill="#f23645"/>
<rect x="270" y="349" width="1" height="4" fill="#f23645"/>
<rect x="270" y="350" width="2" height="3" fill="#f23645"/>
<rect x="273" y="348" width="1" height="8" fill="#089981"/>
<rect x="272" y="349" width="3" height="3" fill="#089981"/>
<rect x="276" y="348" width="1" height="4" fill="#f23645"/>
<rect x="275" y="349" width="3" height="3" fill="#f23645"/>
<rect x="278" y="351" width="1" height="2" fill="#f23645"/>
<rect x="278" y="351" width="2" height="1" fill="#f23645"/>
<rect x="281" y="349" width="1" height="3" fill="#089981"/>
<rect x="280" y="350" width="3" height="2" fill="#089981"/>
<rect x="283" y="340" width="1" height="11" fill="#089981"/>
<rect x="283" y="343" width="2" height="8" fill="#089981"/>
<rect x="286" y="343" width="1" height="4" fill="#f23645"/>
<rect x="285" y="343" width="3" height="4" fill="#f23645"/>
<rect x="288" y="333" width="1" height="14" fill="#089981"/>
<rect x="288" y="336" width="2" height="11" fill="#089981"/>
<rect x="291" y="335" width="1" height="17" fill="#f23645"/>
<rect x="290" y="336" width="3" height="10" fill="#f23645"/>
<rect x="294" y="329" width="1" height="18" fill="#089981"/>
<rect x="293" y="339" width="3" height="7" fill="#089981"/>
<rect x="296" y="335" width="1" height="7" fill="#f23645"/>
<rect x="296" y="339" width="2" height="2" fill="#f23645"/>
<rect x="299" y="340" width="1" height="8" fill="#f23645"/>
<rect x="298" y="341" width="3" height="4" fill="#f23645"/>
<rect x="301" y="344" width="1" height="11" fill="#f23645"/>
<rect x="301" y="344" width="2" height="10" fill="#f23645"/>
<rect x="304" y="351" width="1" height="14" fill="#089981"/>
<rect x="303" y="352" width="3" height="1" fill="#089981"/>
<rect x="307" y="347" width="1" height="9" fill="#089981"/>
<rect x="306" y="350" width="3" height="3" fill="#089981"/>
<rect x="309" y="349" width="1" height="13" fill="#f23645"/>
<rect x="309" y="350" width="2" height="10" fill="#f23645"/>
<rect x="312" y="339" width="1" height="31" fill="#089981"/>
<rect x="311" y="340" width="3" height="20" fill="#089981"/>
<rect x="314" y="329" width="1" height="12" fill="#089981"/>
<rect x="314" y="330" width="2" height="10" fill="#089981"/>
<rect x="317" y="309" width="1" height="27" fill="#089981"/>
<rect x="316" y="324" width="3" height="7" fill="#089981"/>
<rect x="320" y="287" width="1" height="39" fill="#089981"/>
<rect x="319" y="294" width="3" height="31" fill="#089981"/>
<rect x="322" y="281" width="1" height="30" fill="#f23645"/>
<rect x="322" y="294" width="2" height="15" fill="#f23645"/>
<rect x="325" y="290" width="1" height="21" fill="#089981"/>
<rect x="324" y="294" width="3" height="15" fill="#089981"/>
<rect x="327" y="291" width="1" height="7" fill="#f23645"/>
<rect x="327" y="294" width="2" height="3" fill="#f23645"/>
<rect x="330" y="294" width="1" height="15" fill="#f23645"/>
<rect x="329" y="297" width="3" height="12" fill="#f23645"/>
<rect x="332" y="303" width="1" height="24" fill="#f23645"/>
<rect x="332" y="304" width="2" height="22" fill="#f23645"/>
<rect x="335" y="316" width="1" height="48" fill="#f23645"/>
<rect x="334" y="325" width="3" height="26" fill="#f23645"/>
<rect x="338" y="343" width="1" height="12" fill="#f23645"/>
<rect x="337" y="350" width="3" height="4" fill="#f23645"/>
<rect x="340" y="352" width="1" height="13" fill="#f23645"/>
<rect x="340" y="353" width="2" height="10" fill="#f23645"/>
<rect x="343" y="347" width="1" height="17" fill="#089981"/>
<rect x="342" y="355" width="3" height="8" fill="#089981"/>
<rect x="345" y="346" width="1" height="11" fill="#089981"/>
<rect x="345" y="348" width="2" height="8" fill="#089981"/>
<rect x="348" y="347" width="1" height="12" fill="#f23645"/>
<rect x="347" y="349" width="3" height="7" fill="#f23645"/>
<rect x="351" y="335" width="1" height="39" fill="#089981"/>
<rect x="350" y="344" width="3" height="12" fill="#089981"/>
<rect x="353" y="314" width="1" height="31" fill="#089981"/>
<rect x="353" y="315" width="2" height="29" fill="#089981"/>
<rect x="356" y="289" width="1" height="28" fill="#089981"/>
<rect x="355" y="297" width="3" height="19" fill="#089981"/>
<rect x="358" y="290" width="1" height="50" fill="#f23645"/>
<rect x="358" y="297" width="2" height="24" fill="#f23645"/>
<rect x="361" y="304" width="1" height="20" fill="#089981"/>
<rect x="360" y="314" width="3" height="6" fill="#089981"/>
<rect x="363" y="305" width="1" height="10" fill="#089981"/>
<rect x="363" y="307" width="2" height="8" fill="#089981"/>
<rect x="366" y="300" width="1" height="24" fill="#f23645"/>
<rect x="365" y="307" width="3" height="16" fill="#f23645"/>
<rect x="369" y="321" width="1" height="21" fill="#f23645"/>
<rect x="368" y="322" width="3" height="17" fill="#f23645"/>
<rect x="371" y="331" width="1" height="8" fill="#089981"/>
<rect x="371" y="331" width="2" height="8" fill="#089981"/>
<rect x="374" y="319" width="1" height="13" fill="#089981"/>
<rect x="373" y="329" width="3" height="3" fill="#089981"/>
<rect x="376" y="319" width="1" height="11" fill="#089981"/>
<rect x="376" y="322" width="2" height="7" fill="#089981"/>
<rect x="379" y="319" width="1" height="20" fill="#f23645"/>
<rect x="378" y="322" width="3" height="12" fill="#f23645"/>
<rect x="382" y="326" width="1" height="11" fill="#f23645"/>
<rect x="381" y="333" width="3" height="4" fill="#f23645"/>
<rect x="384" y="323" width="1" height="14" fill="#089981"/>
<rect x="384" y="324" width="2" height="13" fill="#089981"/>
<rect x="387" y="315" width="1" height="12" fill="#089981"/>
<rect x="386" y="320" width="3" height="7" fill="#089981"/>
<rect x="389" y="292" width="1" height="29" fill="#089981"/>
<rect x="389" y="305" width="2" height="15" fill="#089981"/>
<rect x="392" y="291" width="1" height="16" fill="#089981"/>
<rect x="391" y="294" width="3" height="12" fill="#089981"/>
<rect x="394" y="293" width="1" height="12" fill="#f23645"/>
<rect x="394" y="294" width="2" height="11" fill="#f23645"/>
<rect x="397" y="295" width="1" height="10" fill="#089981"/>
<rect x="396" y="295" width="3" height="10" fill="#089981"/>
<rect x="400" y="275" width="1" height="22" fill="#089981"/>
<rect x="399" y="291" width="3" height="5" fill="#089981"/>
<rect x="402" y="288" width="1" height="10" fill="#f23645"/>
<rect x="402" y="291" width="2" height="7" fill="#f23645"/>
<rect x="405" y="291" width="1" height="12" fill="#f23645"/>
<rect x="404" y="297" width="3" height="6" fill="#f23645"/>
<rect x="407" y="297" width="1" height="8" fill="#089981"/>
<rect x="407" y="297" width="2" height="6" fill="#089981"/>
<rect x="410" y="278" width="1" height="24" fill="#f23645"/>
<rect x="409" y="298" width="3" height="2" fill="#f23645"/>
<rect x="413" y="266" width="1" height="44" fill="#089981"/>
<rect x="412" y="284" width="3" height="16" fill="#089981"/>
<rect x="415" y="244" width="1" height="41" fill="#089981"/>
<rect x="415" y="245" width="2" height="40" fill="#089981"/>
<rect x="418" y="233" width="1" height="26" fill="#f23645"/>
<rect x="417" y="245" width="3" height="4" fill="#f23645"/>
<rect x="420" y="247" width="1" height="8" fill="#f23645"/>
<rect x="420" y="248" width="2" height="3" fill="#f23645"/>
<rect x="423" y="228" width="1" height="26" fill="#089981"/>
<rect x="422" y="239" width="3" height="14" fill="#089981"/>
<rect x="426" y="214" width="1" height="26" fill="#089981"/>
<rect x="425" y="215" width="3" height="24" fill="#089981"/>
<rect x="428" y="204" width="1" height="12" fill="#089981"/>
<rect x="428" y="207" width="2" height="8" fill="#089981"/>
<rect x="431" y="204" width="1" height="17" fill="#f23645"/>
<rect x="430" y="207" width="3" height="13" fill="#f23645"/>
<rect x="433" y="127" width="1" height="94" fill="#089981"/>
<rect x="433" y="155" width="2" height="65" fill="#089981"/>
<rect x="436" y="142" width="1" height="41" fill="#f23645"/>
<rect x="435" y="155" width="3" height="15" fill="#f23645"/>
<rect x="438" y="169" width="1" height="10" fill="#f23645"/>
<rect x="438" y="170" width="2" height="7" fill="#f23645"/>
<rect x="441" y="162" width="1" height="18" fill="#089981"/>
<rect x="440" y="175" width="3" height="1" fill="#089981"/>
<rect x="444" y="163" width="1" height="14" fill="#089981"/>
<rect x="443" y="171" width="3" height="5" fill="#089981"/>
<rect x="446" y="157" width="1" height="15" fill="#089981"/>
<rect x="446" y="157" width="2" height="15" fill="#089981"/>
<rect x="449" y="154" width="1" height="22" fill="#f23645"/>
<rect x="448" y="157" width="3" height="19" fill="#f23645"/>
<rect x="451" y="174" width="1" height="12" fill="#f23645"/>
<rect x="451" y="175" width="2" height="11" fill="#f23645"/>
<rect x="454" y="183" width="1" height="18" fill="#089981"/>
<rect x="453" y="184" width="3" height="1" fill="#089981"/>
<rect x="457" y="176" width="1" height="14" fill="#089981"/>
<rect x="456" y="177" width="3" height="8" fill="#089981"/>
<rect x="459" y="173" width="1" height="17" fill="#f23645"/>
<rect x="459" y="177" width="2" height="13" fill="#f23645"/>
<rect x="462" y="178" width="1" height="12" fill="#089981"/>
<rect x="461" y="181" width="3" height="8" fill="#089981"/>
<rect x="464" y="173" width="1" height="8" fill="#089981"/>
<rect x="464" y="180" width="2" height="1" fill="#089981"/>
<rect x="467" y="180" width="1" height="15" fill="#f23645"/>
<rect x="466" y="181" width="3" height="13" fill="#f23645"/>
<rect x="469" y="179" width="1" height="18" fill="#089981"/>
<rect x="469" y="183" width="2" height="11" fill="#089981"/>
<rect x="472" y="175" width="1" height="14" fill="#f23645"/>
<rect x="471" y="183" width="3" height="3" fill="#f23645"/>
<rect x="475" y="114" width="1" height="72" fill="#089981"/>
<rect x="474" y="127" width="3" height="58" fill="#089981"/>
<rect x="477" y="104" width="1" height="24" fill="#089981"/>
<rect x="477" y="117" width="2" height="10" fill="#089981"/>
<rect x="480" y="80" width="1" height="37" fill="#089981"/>
<rect x="479" y="96" width="3" height="21" fill="#089981"/>
<rect x="482" y="77" width="1" height="38" fill="#f23645"/>
<rect x="482" y="96" width="2" height="19" fill="#f23645"/>
<rect x="485" y="103" width="1" height="33" fill="#f23645"/>
<rect x="484" y="109" width="3" height="6" fill="#f23645"/>
<rect x="488" y="82" width="1" height="37" fill="#089981"/>
<rect x="487" y="97" width="3" height="18" fill="#089981"/>
<rect x="490" y="71" width="1" height="28" fill="#089981"/>
<rect x="490" y="81" width="2" height="17" fill="#089981"/>
<rect x="493" y="79" width="1" height="13" fill="#f23645"/>
<rect x="492" y="81" width="3" height="5" fill="#f23645"/>
<rect x="495" y="85" width="1" height="31" fill="#f23645"/>
<rect x="495" y="85" width="2" height="28" fill="#f23645"/>
<rect x="498" y="93" width="1" height="20" fill="#089981"/>
<rect x="497" y="109" width="3" height="4" fill="#089981"/>
<rect x="500" y="108" width="1" height="16" fill="#f23645"/>
<rect x="500" y="109" width="2" height="11" fill="#f23645"/>
<rect x="503" y="109" width="1" height="25" fill="#f23645"/>
<rect x="502" y="120" width="3" height="10" fill="#f23645"/>
<rect x="506" y="122" width="1" height="20" fill="#f23645"/>
<rect x="505" y="129" width="3" height="5" fill="#f23645"/>
<rect x="508" y="132" width="1" height="23" fill="#f23645"/>
<rect x="508" y="133" width="2" height="14" fill="#f23645"/>
<rect x="511" y="131" width="1" height="16" fill="#089981"/>
<rect x="510" y="134" width="3" height="13" fill="#089981"/>
<rect x="513" y="126" width="1" height="10" fill="#089981"/>
<rect x="513" y="128" width="2" height="7" fill="#089981"/>
<rect x="516" y="123" width="1" height="16" fill="#f23645"/>
<rect x="515" y="128" width="3" height="9" fill="#f23645"/>
<rect x="519" y="116" width="1" height="22" fill="#089981"/>
<rect x="518" y="121" width="3" height="16" fill="#089981"/>
<rect x="521" y="119" width="1" height="3" fill="#089981"/>
<rect x="521" y="120" width="2" height="1" fill="#089981"/>
<rect x="524" y="99" width="1" height="25" fill="#089981"/>
<rect x="523" y="105" width="3" height="17" fill="#089981"/>
<rect x="526" y="104" width="1" height="13" fill="#f23645"/>
<rect x="526" y="105" width="2" height="10" fill="#f23645"/>
<rect x="529" y="109" width="1" height="15" fill="#f23645"/>
<rect x="528" y="114" width="3" height="10" fill="#f23645"/>
<rect x="531" y="106" width="1" height="19" fill="#089981"/>
<rect x="531" y="107" width="2" height="17" fill="#089981"/>
<rect x="534" y="106" width="1" height="16" fill="#f23645"/>
<rect x="533" y="108" width="3" height="6" fill="#f23645"/>
<rect x="537" y="101" width="1" height="61" fill="#f23645"/>
<rect x="536" y="113" width="3" height="30" fill="#f23645"/>
<rect x="539" y="115" width="1" height="53" fill="#089981"/>
<rect x="539" y="116" width="2" height="27" fill="#089981"/>
<rect x="542" y="108" width="1" height="27" fill="#089981"/>
<rect x="541" y="117" width="3" height="1" fill="#089981"/>
<rect x="544" y="101" width="1" height="27" fill="#f23645"/>
<rect x="544" y="117" width="2" height="4" fill="#f23645"/>
<rect x="547" y="120" width="1" height="35" fill="#f23645"/>
<rect x="546" y="121" width="3" height="32" fill="#f23645"/>
<rect x="550" y="149" width="1" height="29" fill="#f23645"/>
<rect x="549" y="152" width="3" height="14" fill="#f23645"/>
<rect x="552" y="155" width="1" height="25" fill="#f23645"/>
<rect x="552" y="155" width="2" height="12" fill="#f23645"/>
<rect x="555" y="160" width="1" height="17" fill="#089981"/>
<rect x="554" y="162" width="3" height="14" fill="#089981"/>
<rect x="557" y="151" width="1" height="14" fill="#f23645"/>
<rect x="557" y="162" width="2" height="2" fill="#f23645"/>
<rect x="560" y="157" width="1" height="13" fill="#089981"/>
<rect x="559" y="161" width="3" height="2" fill="#089981"/>
<rect x="563" y="153" width="1" height="10" fill="#089981"/>
<rect x="562" y="159" width="3" height="3" fill="#089981"/>
<rect x="565" y="152" width="1" height="16" fill="#089981"/>
<rect x="565" y="159" width="2" height="1" fill="#089981"/>
<rect x="568" y="158" width="1" height="11" fill="#f23645"/>
<rect x="567" y="159" width="3" height="6" fill="#f23645"/>
<rect x="570" y="163" width="1" height="9" fill="#f23645"/>
<rect x="570" y="163" width="2" height="8" fill="#f23645"/>
<rect x="573" y="162" width="1" height="18" fill="#f23645"/>
<rect x="572" y="171" width="3" height="4" fill="#f23645"/>
<rect x="575" y="158" width="1" height="18" fill="#089981"/>
<rect x="575" y="159" width="2" height="16" fill="#089981"/>
<rect x="578" y="153" width="1" height="7" fill="#089981"/>
<rect x="577" y="156" width="3" height="3" fill="#089981"/>
<rect x="581" y="154" width="1" height="12" fill="#f23645"/>
<rect x="580" y="156" width="3" height="4" fill="#f23645"/>
<rect x="583" y="151" width="1" height="9" fill="#089981"/>
<rect x="583" y="157" width="2" height="3" fill="#089981"/>
<rect x="586" y="154" width="1" height="7" fill="#f23645"/>
<rect x="585" y="158" width="3" height="3" fill="#f23645"/>
<rect x="588" y="160" width="1" height="14" fill="#f23645"/>
<rect x="588" y="161" width="2" height="13" fill="#f23645"/>
<rect x="591" y="167" width="1" height="8" fill="#089981"/>
<rect x="590" y="168" width="3" height="6" fill="#089981"/>
<rect x="594" y="163" width="1" height="8" fill="#089981"/>
<rect x="593" y="167" width="3" height="2" fill="#089981"/>
<rect x="596" y="162" width="1" height="12" fill="#f23645"/>
<rect x="596" y="167" width="2" height="1" fill="#f23645"/>
<rect x="599" y="153" width="1" height="25" fill="#f23645"/>
<rect x="598" y="167" width="3" height="11" fill="#f23645"/>
<rect x="601" y="159" width="1" height="53" fill="#f23645"/>
<rect x="601" y="177" width="2" height="25" fill="#f23645"/>
<rect x="604" y="185" width="1" height="19" fill="#089981"/>
<rect x="603" y="190" width="3" height="12" fill="#089981"/>
<rect x="606" y="180" width="1" height="11" fill="#089981"/>
<rect x="606" y="182" width="2" height="9" fill="#089981"/>
<rect x="609" y="176" width="1" height="10" fill="#f23645"/>
<rect x="608" y="182" width="3" height="4" fill="#f23645"/>
<rect x="612" y="183" width="1" height="8" fill="#089981"/>
<rect x="611" y="185" width="3" height="1" fill="#089981"/>
<rect x="614" y="163" width="1" height="34" fill="#089981"/>
<rect x="614" y="163" width="2" height="23" fill="#089981"/>
<rect x="617" y="161" width="1" height="10" fill="#f23645"/>
<rect x="616" y="163" width="3" height="2" fill="#f23645"/>
<rect x="619" y="162" width="1" height="13" fill="#f23645"/>
<rect x="619" y="164" width="2" height="1" fill="#f23645"/>
<rect x="622" y="162" width="1" height="6" fill="#089981"/>
<rect x="621" y="163" width="3" height="2" fill="#089981"/>
<rect x="625" y="162" width="1" height="6" fill="#f23645"/>
<rect x="624" y="163" width="3" height="5" fill="#f23645"/>
<rect x="627" y="164" width="1" height="6" fill="#f23645"/>
<rect x="627" y="165" width="2" height="5" fill="#f23645"/>
<rect x="630" y="169" width="1" height="8" fill="#f23645"/>
<rect x="629" y="169" width="3" height="2" fill="#f23645"/>
<rect x="632" y="170" width="1" height="4" fill="#089981"/>
<rect x="632" y="170" width="2" height="1" fill="#089981"/>
<rect x="635" y="170" width="1" height="5" fill="#f23645"/>
<rect x="634" y="170" width="3" height="4" fill="#f23645"/>
<rect x="637" y="172" width="1" height="1" fill="#089981"/>
<rect x="637" y="172" width="2" height="1" fill="#089981"/>
<rect x="640" y="171" width="1" height="7" fill="#f23645"/>
<rect x="639" y="172" width="3" height="4" fill="#f23645"/>
<rect x="643" y="175" width="1" height="8" fill="#f23645"/>
<rect x="642" y="175" width="3" height="7" fill="#f23645"/>
<rect x="645" y="175" width="1" height="9" fill="#089981"/>
<rect x="645" y="175" width="2" height="7" fill="#089981"/>
<rect x="648" y="174" width="1" height="4" fill="#089981"/>
<rect x="647" y="175" width="3" height="1" fill="#089981"/>
<rect x="650" y="174" width="1" height="7" fill="#f23645"/>
<rect x="650" y="175" width="2" height="6" fill="#f23645"/>
<rect x="653" y="172" width="1" height="10" fill="#089981"/>
<rect x="652" y="172" width="3" height="9" fill="#089981"/>
<rect x="656" y="169" width="1" height="7" fill="#f23645"/>
<rect x="655" y="172" width="3" height="4" fill="#f23645"/>
<rect x="658" y="168" width="1" height="9" fill="#089981"/>
<rect x="658" y="168" width="2" height="8" fill="#089981"/>
<rect x="661" y="164" width="1" height="6" fill="#089981"/>
<rect x="660" y="166" width="3" height="3" fill="#089981"/>
<rect x="663" y="160" width="1" height="7" fill="#089981"/>
<rect x="663" y="162" width="2" height="4" fill="#089981"/>
<rect x="666" y="162" width="1" height="15" fill="#f23645"/>
<rect x="665" y="162" width="3" height="12" fill="#f23645"/>
<rect x="668" y="168" width="1" height="6" fill="#089981"/>
<rect x="668" y="171" width="2" height="3" fill="#089981"/>
<rect x="671" y="167" width="1" height="5" fill="#089981"/>
<rect x="670" y="168" width="3" height="3" fill="#089981"/>
<rect x="674" y="168" width="1" height="6" fill="#f23645"/>
<rect x="673" y="168" width="3" height="6" fill="#f23645"/>
<rect x="676" y="170" width="1" height="4" fill="#089981"/>
<rect x="676" y="170" width="2" height="4" fill="#089981"/>
<rect x="679" y="169" width="1" height="5" fill="#f23645"/>
<rect x="678" y="170" width="3" height="3" fill="#f23645"/>
<rect x="681" y="173" width="1" height="10" fill="#f23645"/>
<rect x="681" y="173" width="2" height="5" fill="#f23645"/>
<rect x="684" y="177" width="1" height="2" fill="#f23645"/>
<rect x="683" y="178" width="3" height="1" fill="#f23645"/>
<rect x="687" y="175" width="1" height="7" fill="#f23645"/>
<rect x="686" y="179" width="3" height="2" fill="#f23645"/>
<rect x="689" y="180" width="1" height="10" fill="#f23645"/>
<rect x="689" y="180" width="2" height="7" fill="#f23645"/>
<rect x="692" y="182" width="1" height="7" fill="#089981"/>
<rect x="691" y="185" width="3" height="2" fill="#089981"/>
<rect x="694" y="177" width="1" height="8" fill="#089981"/>
<rect x="694" y="177" width="2" height="8" fill="#089981"/>
<rect x="697" y="177" width="1" height="5" fill="#f23645"/>
<rect x="696" y="177" width="3" height="5" fill="#f23645"/>
<rect x="700" y="175" width="1" height="8" fill="#089981"/>
<rect x="699" y="177" width="3" height="5" fill="#089981"/>
<rect x="702" y="177" width="1" height="2" fill="#f23645"/>
<rect x="702" y="177" width="2" height="1" fill="#f23645"/>
<rect x="705" y="178" width="1" height="7" fill="#f23645"/>
<rect x="704" y="178" width="3" height="7" fill="#f23645"/>
<rect x="707" y="177" width="1" height="8" fill="#089981"/>
<rect x="707" y="178" width="2" height="7" fill="#089981"/>
<rect x="710" y="173" width="1" height="6" fill="#089981"/>
<rect x="709" y="174" width="3" height="4" fill="#089981"/>
<rect x="712" y="173" width="1" height="8" fill="#f23645"/>
<rect x="712" y="174" width="2" height="4" fill="#f23645"/>
<rect x="715" y="177" width="1" height="5" fill="#f23645"/>
<rect x="714" y="178" width="3" height="1" fill="#f23645"/>
<rect x="718" y="178" width="1" height="4" fill="#f23645"/>
<rect x="717" y="178" width="3" height="3" fill="#f23645"/>
<rect x="720" y="177" width="1" height="11" fill="#089981"/>
<rect x="720" y="179" width="2" height="2" fill="#089981"/>
<rect x="723" y="170" width="1" height="18" fill="#f23645"/>
<rect x="722" y="179" width="3" height="8" fill="#f23645"/>
<rect x="725" y="180" width="1" height="8" fill="#089981"/>
<rect x="725" y="180" width="2" height="7" fill="#089981"/>
<rect x="728" y="178" width="1" height="3" fill="#089981"/>
<rect x="727" y="178" width="3" height="3" fill="#089981"/>
<rect x="731" y="174" width="1" height="5" fill="#089981"/>
<rect x="730" y="175" width="3" height="4" fill="#089981"/>
<rect x="733" y="165" width="1" height="10" fill="#089981"/>
<rect x="733" y="168" width="2" height="7" fill="#089981"/>
<rect x="736" y="165" width="1" height="7" fill="#f23645"/>
<rect x="735" y="168" width="3" height="2" fill="#f23645"/>
<rect x="738" y="169" width="1" height="5" fill="#f23645"/>
<rect x="738" y="170" width="2" height="4" fill="#f23645"/>
<rect x="741" y="168" width="1" height="6" fill="#089981"/>
<rect x="740" y="168" width="3" height="6" fill="#089981"/>
<rect x="743" y="164" width="1" height="5" fill="#089981"/>
<rect x="743" y="166" width="2" height="3" fill="#089981"/>
<rect x="746" y="165" width="1" height="74" fill="#f23645"/>
<rect x="745" y="165" width="3" height="72" fill="#f23645"/>
<rect x="749" y="236" width="1" height="69" fill="#f23645"/>
<rect x="748" y="236" width="3" height="38" fill="#f23645"/>
<rect x="751" y="273" width="1" height="19" fill="#f23645"/>
<rect x="751" y="274" width="2" height="5" fill="#f23645"/>
<rect x="754" y="275" width="1" height="12" fill="#f23645"/>
<rect x="753" y="279" width="3" height="1" fill="#f23645"/>
<rect x="756" y="271" width="1" height="11" fill="#089981"/>
<rect x="756" y="275" width="2" height="6" fill="#089981"/>
<rect x="759" y="272" width="1" height="10" fill="#f23645"/>
<rect x="758" y="275" width="3" height="2" fill="#f23645"/>
<rect x="762" y="270" width="1" height="13" fill="#f23645"/>
<rect x="761" y="276" width="3" height="7" fill="#f23645"/>
<rect x="764" y="277" width="1" height="10" fill="#089981"/>
<rect x="764" y="278" width="2" height="5" fill="#089981"/>
<rect x="767" y="268" width="1" height="12" fill="#089981"/>
<rect x="766" y="269" width="3" height="11" fill="#089981"/>
<rect x="769" y="248" width="1" height="22" fill="#089981"/>
<rect x="769" y="253" width="2" height="17" fill="#089981"/>
<rect x="772" y="252" width="1" height="13" fill="#f23645"/>
<rect x="771" y="253" width="3" height="9" fill="#f23645"/>
<rect x="774" y="260" width="1" height="7" fill="#089981"/>
<rect x="774" y="260" width="2" height="2" fill="#089981"/>
<rect x="777" y="250" width="1" height="14" fill="#089981"/>
<rect x="776" y="255" width="3" height="6" fill="#089981"/>
<rect x="780" y="254" width="1" height="9" fill="#f23645"/>
<rect x="779" y="255" width="3" height="6" fill="#f23645"/>
<rect x="782" y="256" width="1" height="13" fill="#f23645"/>
<rect x="782" y="257" width="2" height="5" fill="#f23645"/>
<rect x="785" y="261" width="1" height="13" fill="#f23645"/>
<rect x="784" y="261" width="3" height="10" fill="#f23645"/>
<rect x="787" y="260" width="1" height="11" fill="#089981"/>
<rect x="787" y="260" width="2" height="11" fill="#089981"/>
<rect x="790" y="246" width="1" height="17" fill="#089981"/>
<rect x="789" y="251" width="3" height="10" fill="#089981"/>
<rect x="793" y="248" width="1" height="9" fill="#f23645"/>
<rect x="792" y="251" width="3" height="3" fill="#f23645"/>
<rect x="795" y="253" width="1" height="12" fill="#f23645"/>
<rect x="795" y="253" width="2" height="7" fill="#f23645"/>
<rect x="798" y="257" width="1" height="6" fill="#089981"/>
<rect x="797" y="259" width="3" height="2" fill="#089981"/>
<rect x="800" y="252" width="1" height="8" fill="#089981"/>
<rect x="800" y="257" width="2" height="3" fill="#089981"/>
<rect x="803" y="249" width="1" height="15" fill="#f23645"/>
<rect x="802" y="257" width="3" height="7" fill="#f23645"/>
<rect x="805" y="263" width="1" height="18" fill="#f23645"/>
<rect x="805" y="263" width="2" height="18" fill="#f23645"/>
<rect x="808" y="272" width="1" height="23" fill="#089981"/>
<rect x="807" y="277" width="3" height="4" fill="#089981"/>
<rect x="811" y="268" width="1" height="19" fill="#089981"/>
<rect x="810" y="274" width="3" height="4" fill="#089981"/>
<rect x="813" y="268" width="1" height="13" fill="#f23645"/>
<rect x="813" y="274" width="2" height="1" fill="#f23645"/>
<rect x="816" y="273" width="1" height="14" fill="#f23645"/>
<rect x="815" y="274" width="3" height="6" fill="#f23645"/>
<rect x="818" y="276" width="1" height="15" fill="#f23645"/>
<rect x="818" y="277" width="2" height="4" fill="#f23645"/>
<rect x="821" y="283" width="1" height="19" fill="#f23645"/>
<rect x="820" y="285" width="3" height="15" fill="#f23645"/>
<rect x="824" y="298" width="1" height="31" fill="#f23645"/>
<rect x="823" y="299" width="3" height="18" fill="#f23645"/>
<rect x="826" y="315" width="1" height="34" fill="#f23645"/>
<rect x="826" y="316" width="2" height="28" fill="#f23645"/>
<rect x="829" y="328" width="1" height="18" fill="#089981"/>
<rect x="828" y="334" width="3" height="10" fill="#089981"/>
<rect x="831" y="331" width="1" height="21" fill="#f23645"/>
<rect x="831" y="334" width="2" height="3" fill="#f23645"/>
<rect x="834" y="335" width="1" height="9" fill="#f23645"/>
<rect x="833" y="336" width="3" height="4" fill="#f23645"/>
<rect x="837" y="329" width="1" height="12" fill="#089981"/>
<rect x="836" y="330" width="3" height="10" fill="#089981"/>
<rect x="839" y="323" width="1" height="10" fill="#f23645"/>
<rect x="839" y="330" width="2" height="3" fill="#f23645"/>
<rect x="842" y="328" width="1" height="11" fill="#089981"/>
<rect x="841" y="330" width="3" height="3" fill="#089981"/>
<rect x="844" y="329" width="1" height="20" fill="#f23645"/>
<rect x="844" y="330" width="2" height="13" fill="#f23645"/>
<rect x="847" y="326" width="1" height="43" fill="#f23645"/>
<rect x="846" y="342" width="3" height="18" fill="#f23645"/>
<rect x="849" y="348" width="1" height="37" fill="#089981"/>
<rect x="849" y="353" width="2" height="7" fill="#089981"/>
<rect x="852" y="342" width="1" height="37" fill="#f23645"/>
<rect x="851" y="353" width="3" height="21" fill="#f23645"/>
<rect x="855" y="358" width="1" height="44" fill="#f23645"/>
<rect x="854" y="373" width="3" height="15" fill="#f23645"/>
<rect x="857" y="380" width="1" height="23" fill="#f23645"/>
<rect x="857" y="388" width="2" height="12" fill="#f23645"/>
<rect x="860" y="387" width="1" height="20" fill="#089981"/>
<rect x="859" y="390" width="3" height="10" fill="#089981"/>
<rect x="862" y="385" width="1" height="7" fill="#089981"/>
<rect x="862" y="390" width="2" height="1" fill="#089981"/>
<rect x="865" y="386" width="1" height="16" fill="#f23645"/>
<rect x="864" y="390" width="3" height="11" fill="#f23645"/>
<rect x="868" y="393" width="1" height="68" fill="#f23645"/>
<rect x="867" y="401" width="3" height="36" fill="#f23645"/>
<rect x="870" y="436" width="1" height="25" fill="#f23645"/>
<rect x="870" y="437" width="2" height="5" fill="#f23645"/>
<rect x="873" y="420" width="1" height="28" fill="#089981"/>
<rect x="872" y="421" width="3" height="21" fill="#089981"/>
<rect x="875" y="412" width="1" height="11" fill="#089981"/>
<rect x="875" y="419" width="2" height="3" fill="#089981"/>
<rect x="878" y="404" width="1" height="15" fill="#089981"/>
<rect x="877" y="416" width="3" height="3" fill="#089981"/>
<rect x="880" y="395" width="1" height="22" fill="#089981"/>
<rect x="880" y="401" width="2" height="15" fill="#089981"/>
<rect x="883" y="394" width="1" height="9" fill="#089981"/>
<rect x="882" y="400" width="3" height="2" fill="#089981"/>
<rect x="886" y="375" width="1" height="27" fill="#089981"/>
<rect x="885" y="381" width="3" height="20" fill="#089981"/>
<rect x="888" y="380" width="1" height="20" fill="#f23645"/>
<rect x="888" y="381" width="2" height="18" fill="#f23645"/>
<rect x="891" y="389" width="1" height="26" fill="#f23645"/>
<rect x="890" y="393" width="3" height="18" fill="#f23645"/>
<rect x="893" y="402" width="1" height="16" fill="#f23645"/>
<rect x="893" y="403" width="2" height="8" fill="#f23645"/>
<rect x="896" y="399" width="1" height="16" fill="#f23645"/>
<rect x="895" y="411" width="3" height="4" fill="#f23645"/>
<rect x="899" y="403" width="1" height="12" fill="#089981"/>
<rect x="898" y="409" width="3" height="6" fill="#089981"/>
<rect x="901" y="404" width="1" height="23" fill="#f23645"/>
<rect x="901" y="409" width="2" height="17" fill="#f23645"/>
<rect x="904" y="424" width="1" height="26" fill="#f23645"/>
<rect x="903" y="426" width="3" height="4" fill="#f23645"/>
<rect x="906" y="418" width="1" height="18" fill="#f23645"/>
<rect x="906" y="430" width="2" height="1" fill="#f23645"/>
<rect x="909" y="380" width="1" height="54" fill="#089981"/>
<rect x="908" y="387" width="3" height="44" fill="#089981"/>
<rect x="911" y="359" width="1" height="29" fill="#089981"/>
<rect x="911" y="368" width="2" height="20" fill="#089981"/>
<rect x="914" y="365" width="1" height="109" fill="#f23645"/>
<rect x="913" y="368" width="3" height="106" fill="#f23645"/>
<rect x="917" y="451" width="1" height="34" fill="#089981"/>
<rect x="916" y="460" width="3" height="14" fill="#089981"/>
<rect x="919" y="432" width="1" height="29" fill="#089981"/>
<rect x="919" y="438" width="2" height="22" fill="#089981"/>
<rect x="922" y="362" width="1" height="84" fill="#089981"/>
<rect x="921" y="366" width="3" height="72" fill="#089981"/>
<rect x="924" y="365" width="1" height="38" fill="#f23645"/>
<rect x="924" y="366" width="2" height="5" fill="#f23645"/>
<rect x="927" y="366" width="1" height="15" fill="#089981"/>
<rect x="926" y="369" width="3" height="2" fill="#089981"/>
<rect x="930" y="365" width="1" height="26" fill="#f23645"/>
<rect x="929" y="369" width="3" height="21" fill="#f23645"/>
<rect x="932" y="388" width="1" height="17" fill="#f23645"/>
<rect x="932" y="389" width="2" height="3" fill="#f23645"/>
<rect x="935" y="382" width="1" height="20" fill="#089981"/>
<rect x="934" y="383" width="3" height="19" fill="#089981"/>
<rect x="937" y="371" width="1" height="13" fill="#089981"/>
<rect x="937" y="374" width="2" height="9" fill="#089981"/>
<rect x="940" y="365" width="1" height="25" fill="#f23645"/>
<rect x="939" y="374" width="3" height="9" fill="#f23645"/>
<rect x="943" y="373" width="1" height="11" fill="#f23645"/>
<rect x="942" y="376" width="3" height="7" fill="#f23645"/>
<rect x="945" y="376" width="1" height="10" fill="#089981"/>
<rect x="945" y="379" width="2" height="4" fill="#089981"/>
<rect x="948" y="377" width="1" height="5" fill="#089981"/>
<rect x="947" y="378" width="3" height="3" fill="#089981"/>
<rect x="950" y="371" width="1" height="9" fill="#089981"/>
<rect x="950" y="373" width="2" height="6" fill="#089981"/>
<rect x="953" y="372" width="1" height="17" fill="#f23645"/>
<rect x="952" y="373" width="3" height="15" fill="#f23645"/>
<rect x="955" y="382" width="1" height="7" fill="#089981"/>
<rect x="955" y="383" width="2" height="5" fill="#089981"/>
<rect x="958" y="375" width="1" height="9" fill="#089981"/>
<rect x="957" y="378" width="3" height="5" fill="#089981"/>
<rect x="961" y="375" width="1" height="6" fill="#089981"/>
<rect x="960" y="376" width="3" height="3" fill="#089981"/>
<rect x="963" y="374" width="1" height="9" fill="#f23645"/>
<rect x="963" y="374" width="2" height="9" fill="#f23645"/>
<rect x="966" y="376" width="1" height="8" fill="#089981"/>
<rect x="965" y="379" width="3" height="4" fill="#089981"/>
<rect x="968" y="366" width="1" height="34" fill="#f23645"/>
<rect x="968" y="379" width="2" height="20" fill="#f23645"/>
<rect x="971" y="389" width="1" height="28" fill="#f23645"/>
<rect x="970" y="394" width="3" height="22" fill="#f23645"/>
<rect x="974" y="401" width="1" height="36" fill="#f23645"/>
<rect x="973" y="415" width="3" height="4" fill="#f23645"/>
<rect x="976" y="408" width="1" height="19" fill="#089981"/>
<rect x="976" y="417" width="2" height="2" fill="#089981"/>
<rect x="979" y="394" width="1" height="24" fill="#089981"/>
<rect x="978" y="397" width="3" height="20" fill="#089981"/>
<rect x="981" y="387" width="1" height="16" fill="#f23645"/>
<rect x="981" y="396" width="2" height="2" fill="#f23645"/>
<rect x="984" y="382" width="1" height="31" fill="#089981"/>
<rect x="983" y="388" width="3" height="18" fill="#089981"/>
<rect x="986" y="382" width="1" height="21" fill="#f23645"/>
<rect x="986" y="388" width="2" height="14" fill="#f23645"/>
<rect x="989" y="391" width="1" height="18" fill="#f23645"/>
<rect x="988" y="402" width="3" height="6" fill="#f23645"/>
<rect x="992" y="396" width="1" height="17" fill="#089981"/>
<rect x="991" y="405" width="3" height="4" fill="#089981"/>
<rect x="994" y="396" width="1" height="10" fill="#089981"/>
<rect x="994" y="400" width="2" height="6" fill="#089981"/>
<rect x="997" y="394" width="1" height="7" fill="#f23645"/>
<rect x="996" y="397" width="3" height="3" fill="#f23645"/>
<rect x="999" y="381" width="1" height="18" fill="#089981"/>
<rect x="999" y="382" width="2" height="17" fill="#089981"/>
<rect x="1002" y="380" width="1" height="14" fill="#f23645"/>
<rect x="1001" y="382" width="3" height="11" fill="#f23645"/>
<rect x="1005" y="381" width="1" height="13" fill="#089981"/>
<rect x="1004" y="382" width="3" height="12" fill="#089981"/>
<rect x="1007" y="376" width="1" height="7" fill="#089981"/>
<rect x="1007" y="381" width="2" height="2" fill="#089981"/>
<rect x="1010" y="380" width="1" height="15" fill="#f23645"/>
<rect x="1009" y="381" width="3" height="14" fill="#f23645"/>
<rect x="1012" y="386" width="1" height="16" fill="#f23645"/>
<rect x="1012" y="387" width="2" height="13" fill="#f23645"/>
<rect x="1015" y="392" width="1" height="9" fill="#089981"/>
<rect x="1014" y="396" width="3" height="4" fill="#089981"/>
<rect x="1017" y="395" width="1" height="18" fill="#f23645"/>
<rect x="1017" y="396" width="2" height="16" fill="#f23645"/>
<rect x="1020" y="402" width="1" height="20" fill="#f23645"/>
<rect x="1019" y="403" width="3" height="18" fill="#f23645"/>
<rect x="1023" y="412" width="1" height="12" fill="#089981"/>
<rect x="1022" y="418" width="3" height="2" fill="#089981"/>
<rect x="1025" y="405" width="1" height="13" fill="#089981"/>
<rect x="1025" y="413" width="2" height="5" fill="#089981"/>
<rect x="1028" y="403" width="1" height="11" fill="#089981"/>
<rect x="1027" y="409" width="3" height="4" fill="#089981"/>
<rect x="1030" y="401" width="1" height="9" fill="#089981"/>
<rect x="1030" y="404" width="2" height="5" fill="#089981"/>
<rect x="1033" y="390" width="1" height="41" fill="#f23645"/>
<rect x="1032" y="404" width="3" height="16" fill="#f23645"/>
<rect x="1036" y="385" width="1" height="51" fill="#089981"/>
<rect x="1035" y="390" width="3" height="29" fill="#089981"/>
<rect x="1038" y="360" width="1" height="30" fill="#089981"/>
<rect x="1038" y="374" width="2" height="16" fill="#089981"/>
<rect x="1041" y="332" width="1" height="44" fill="#089981"/>
<rect x="1040" y="356" width="3" height="19" fill="#089981"/>
<rect x="1043" y="339" width="1" height="21" fill="#f23645"/>
<rect x="1043" y="356" width="2" height="3" fill="#f23645"/>
<rect x="1046" y="359" width="1" height="36" fill="#f23645"/>
<rect x="1045" y="359" width="3" height="22" fill="#f23645"/>
<rect x="1048" y="373" width="1" height="38" fill="#f23645"/>
<rect x="1048" y="374" width="2" height="25" fill="#f23645"/>
<rect x="1051" y="391" width="1" height="15" fill="#f23645"/>
<rect x="1050" y="399" width="3" height="7" fill="#f23645"/>
<rect x="1054" y="389" width="1" height="17" fill="#089981"/>
<rect x="1053" y="394" width="3" height="12" fill="#089981"/>
<rect x="1056" y="393" width="1" height="8" fill="#f23645"/>
<rect x="1056" y="394" width="2" height="6" fill="#f23645"/>
<rect x="1059" y="394" width="1" height="8" fill="#f23645"/>
<rect x="1058" y="395" width="3" height="6" fill="#f23645"/>
<rect x="1061" y="397" width="1" height="5" fill="#089981"/>
<rect x="1061" y="398" width="2" height="3" fill="#089981"/>
<rect x="1064" y="390" width="1" height="9" fill="#089981"/>
<rect x="1063" y="391" width="3" height="7" fill="#089981"/>
<rect x="1067" y="381" width="1" height="11" fill="#089981"/>
<rect x="1066" y="388" width="3" height="4" fill="#089981"/>
<rect x="1069" y="385" width="1" height="4" fill="#089981"/>
<rect x="1069" y="386" width="2" height="3" fill="#089981"/>
<rect x="1072" y="385" width="1" height="4" fill="#f23645"/>
<rect x="1071" y="386" width="3" height="3" fill="#f23645"/>
<rect x="1074" y="387" width="1" height="8" fill="#f23645"/>
<rect x="1074" y="388" width="2" height="6" fill="#f23645"/>
<rect x="1077" y="391" width="1" height="5" fill="#f23645"/>
<rect x="1076" y="393" width="3" height="1" fill="#f23645"/>
<rect x="1080" y="392" width="1" height="4" fill="#089981"/>
<rect x="1079" y="393" width="3" height="1" fill="#089981"/>
<rect x="1082" y="393" width="1" height="3" fill="#f23645"/>
<rect x="1082" y="393" width="2" height="2" fill="#f23645"/>
<rect x="1085" y="393" width="1" height="3" fill="#089981"/>
<rect x="1084" y="394" width="3" height="1" fill="#089981"/>
<rect x="1087" y="392" width="1" height="4" fill="#f23645"/>
<rect x="1087" y="394" width="2" height="1" fill="#f23645"/>
<rect x="1090" y="394" width="1" height="5" fill="#f23645"/>
<rect x="1089" y="395" width="3" height="3" fill="#f23645"/>
<rect x="1092" y="397" width="1" height="8" fill="#f23645"/>
<rect x="1092" y="397" width="2" height="7" fill="#f23645"/>
<rect x="1095" y="398" width="1" height="14" fill="#089981"/>
<rect x="1094" y="401" width="3" height="4" fill="#089981"/>
<rect x="1098" y="399" width="1" height="10" fill="#f23645"/>
<rect x="1097" y="401" width="3" height="8" fill="#f23645"/>
<rect x="1100" y="403" width="1" height="9" fill="#089981"/>
<rect x="1100" y="403" width="2" height="5" fill="#089981"/>
<rect x="1103" y="402" width="1" height="7" fill="#089981"/>
<rect x="1102" y="402" width="3" height="5" fill="#089981"/>
<rect x="1105" y="400" width="1" height="4" fill="#f23645"/>
<rect x="1105" y="403" width="2" height="1" fill="#f23645"/>
<rect x="1108" y="403" width="1" height="5" fill="#f23645"/>
<rect x="1107" y="403" width="3" height="3" fill="#f23645"/>
<rect x="1111" y="403" width="1" height="4" fill="#089981"/>
<rect x="1110" y="403" width="3" height="2" fill="#089981"/>
<rect x="1113" y="403" width="1" height="5" fill="#089981"/>
<rect x="1113" y="403" width="2" height="2" fill="#089981"/>
<rect x="1116" y="399" width="1" height="7" fill="#089981"/>
<rect x="1115" y="402" width="3" height="1" fill="#089981"/>
<rect x="1118" y="400" width="1" height="11" fill="#f23645"/>
<rect x="1118" y="402" width="2" height="9" fill="#f23645"/>
<rect x="1121" y="406" width="1" height="5" fill="#089981"/>
<rect x="1120" y="406" width="3" height="4" fill="#089981"/>
<rect x="1123" y="406" width="1" height="8" fill="#f23645"/>
<rect x="1123" y="406" width="2" height="8" fill="#f23645"/>
<rect x="1126" y="408" width="1" height="6" fill="#f23645"/>
<rect x="1125" y="413" width="3" height="1" fill="#f23645"/>
<rect x="1129" y="412" width="1" height="13" fill="#f23645"/>
<rect x="1128" y="413" width="3" height="8" fill="#f23645"/>
<rect x="1131" y="415" width="1" height="7" fill="#089981"/>
<rect x="1131" y="419" width="2" height="2" fill="#089981"/>
<rect x="1134" y="417" width="1" height="6" fill="#f23645"/>
<rect x="1133" y="418" width="3" height="1" fill="#f23645"/>
<rect x="1136" y="418" width="1" height="14" fill="#f23645"/>
<rect x="1136" y="419" width="2" height="10" fill="#f23645"/>
<rect x="1139" y="425" width="1" height="8" fill="#f23645"/>
<rect x="1138" y="425" width="3" height="8" fill="#f23645"/>
<rect x="1142" y="428" width="1" height="5" fill="#089981"/>
<rect x="1141" y="429" width="3" height="4" fill="#089981"/>
<rect x="10" y="265" width="1" height="21" fill="#089981"/>
<line x1="10" y1="429.5" x2="1740" y2="429.5" stroke="#089981" stroke-width="1" stroke-dasharray="1 2"/>
<line x1="10" y1="270" x2="1561" y2="270" stroke="rgba(58,143,224,0.66)" stroke-width="2" stroke-dasharray="5 6"/>
<line x1="1571" y1="270" x2="1740" y2="270" stroke="rgba(58,143,224,0.66)" stroke-width="2" stroke-dasharray="5 6"/>
<g shape-rendering="geometricPrecision" stroke="#3a8fe0" fill="none" stroke-width="1.2">
<circle cx="1566" cy="270.5" r="4.8" fill="#0e0e0e"/>
<path d="M1566 267.5 V270.5 L1568 272.3"/>
<path d="M1560.6 266.6 A3 3 0 0 1 1563.4 264.6"/>
<path d="M1571.4 266.6 A3 3 0 0 0 1568.6 264.6"/>
<path d="M1562.6 274.6 L1561.4 276 M1569.4 274.6 L1570.6 276"/>
</g>

</svg>
<div id="labels"><div class="t" style="left:17.8px;top:17.84px;font-size:12px;color:#c9ccd4;transform:scaleX(0.9200);transform-origin:0 0;">BTC / USDT, 1h, BTCUSDT</div>
<div class="t" style="left:163.2px;top:17.84px;font-size:12px;color:#c9ccd4;transform:scaleX(0.7713);transform-origin:0 0;">O</div>
<div class="t" style="left:171.4px;top:17.84px;font-size:12px;color:#089981;transform:scaleX(0.9816);transform-origin:0 0;">88,659.99</div>
<div class="t" style="left:231.6px;top:17.84px;font-size:12px;color:#c9ccd4;transform:scaleX(0.8078);transform-origin:0 0;">H</div>
<div class="t" style="left:239.3px;top:17.84px;font-size:12px;color:#089981;transform:scaleX(0.9891);transform-origin:0 0;">88,760.00</div>
<div class="t" style="left:299.7px;top:17.84px;font-size:12px;color:#c9ccd4;transform:scaleX(0.8991);transform-origin:0 0;">L</div>
<div class="t" style="left:306.1px;top:17.84px;font-size:12px;color:#089981;transform:scaleX(0.9703);transform-origin:0 0;">88,635.85</div>
<div class="t" style="left:365.7px;top:17.84px;font-size:12px;color:#c9ccd4;transform:scaleX(0.7386);transform-origin:0 0;">C</div>
<div class="t" style="left:372.9px;top:17.84px;font-size:12px;color:#089981;transform:scaleX(0.9685);transform-origin:0 0;">88,725.17</div>
<div class="t" style="left:433.6px;top:17.84px;font-size:12px;color:#089981;transform:scaleX(0.9340);transform-origin:0 0;">+65.18 (+0.07%)</div>
<div class="t" style="left:17.8px;top:34.24px;font-size:12px;color:#c9ccd4;transform:scaleX(0.9769);transform-origin:0 0;">Volume</div>
<div class="t" style="left:64.6px;top:34.24px;font-size:12px;color:#089981;transform:scaleX(0.9365);transform-origin:0 0;">40</div>
<div class="t" style="left:1748.4px;top:22.04px;font-size:12px;color:#c5c8d0;transform:scaleX(0.9853);transform-origin:0 0;">99,000.00</div>
<div class="t" style="left:1748.4px;top:60.94px;font-size:12px;color:#c5c8d0;transform:scaleX(0.9853);transform-origin:0 0;">98,000.00</div>
<div class="t" style="left:1748.4px;top:99.84px;font-size:12px;color:#c5c8d0;transform:scaleX(0.9853);transform-origin:0 0;">97,000.00</div>
<div class="t" style="left:1748.4px;top:138.74px;font-size:12px;color:#c5c8d0;transform:scaleX(0.9853);transform-origin:0 0;">96,000.00</div>
<div class="t" style="left:1748.4px;top:177.64px;font-size:12px;color:#c5c8d0;transform:scaleX(0.9853);transform-origin:0 0;">95,000.00</div>
<div class="t" style="left:1748.4px;top:216.54px;font-size:12px;color:#c5c8d0;transform:scaleX(0.9853);transform-origin:0 0;">94,000.00</div>
<div class="t" style="left:1748.4px;top:255.44px;font-size:12px;color:#c5c8d0;transform:scaleX(0.9853);transform-origin:0 0;">93,000.00</div>
<div class="t" style="left:1748.4px;top:294.34px;font-size:12px;color:#c5c8d0;transform:scaleX(0.9853);transform-origin:0 0;">92,000.00</div>
<div class="t" style="left:1748.4px;top:333.24px;font-size:12px;color:#c5c8d0;transform:scaleX(0.9853);transform-origin:0 0;">91,000.00</div>
<div class="t" style="left:1748.4px;top:372.14px;font-size:12px;color:#c5c8d0;transform:scaleX(0.9853);transform-origin:0 0;">90,000.00</div>
<div class="t" style="left:1748.4px;top:411.04px;font-size:12px;color:#c5c8d0;transform:scaleX(0.9853);transform-origin:0 0;">89,000.00</div>
<div class="t" style="left:1748.4px;top:449.94px;font-size:12px;color:#c5c8d0;transform:scaleX(0.9853);transform-origin:0 0;">88,000.00</div>
<div class="t" style="left:1748.4px;top:488.84px;font-size:12px;color:#c5c8d0;transform:scaleX(0.9853);transform-origin:0 0;">87,000.00</div>
<div class="t" style="left:1748.4px;top:527.74px;font-size:12px;color:#c5c8d0;transform:scaleX(0.9853);transform-origin:0 0;">86,000.00</div>
<div class="t" style="left:1748.4px;top:566.64px;font-size:12px;color:#c5c8d0;transform:scaleX(0.9853);transform-origin:0 0;">85,000.00</div>
<div class="t" style="left:1748.4px;top:605.54px;font-size:12px;color:#c5c8d0;transform:scaleX(0.9853);transform-origin:0 0;">84,000.00</div>
<div class="t" style="left:1748.4px;top:644.44px;font-size:12px;color:#c5c8d0;transform:scaleX(0.9853);transform-origin:0 0;">83,000.00</div>
<div style="position:absolute;left:1740px;top:680px;width:69px;height:12px;overflow:hidden"><div class="t" style="left:8.4px;top:3.34px;font-size:12px;color:#c5c8d0;transform:scaleX(0.9853);transform-origin:0 0;">82,000.00</div></div>
<div class="lab" style="top:245px;height:17px;background:#ffeb3b;border-radius:0 2px 2px 0"></div><div class="t" style="left:1748.2px;top:245.84px;font-size:12px;color:#000;transform:scaleX(0.9741);transform-origin:0 0;">93,066.53</div>
<div class="lab" style="top:262px;height:17px;background:#3e92e8;border-radius:0 2px 2px 0"></div><div class="t" style="left:1747.6px;top:262.84px;font-size:12px;color:#fff;font-weight:bold;-webkit-text-stroke:0;transform:scaleX(0.9966);transform-origin:0 0;">92,800.00</div>
<div class="lab" style="top:421px;height:31px;background:#089981;border-radius:0 2px 2px 0"></div><div class="t" style="left:1747.4px;top:421.84px;font-size:12px;color:#fff;font-weight:bold;-webkit-text-stroke:0;transform:scaleX(1.0003);transform-origin:0 0;">88,725.17</div><div class="t" style="left:1747.8px;top:435.84px;font-size:12px;color:rgba(255,255,255,.78);transform:scaleX(0.9991);transform-origin:0 0;">46:28</div>
<div class="lab" style="top:676px;height:16px;width:26px;background:#26a69a"></div><div class="t" style="left:1747.8px;top:677.54px;font-size:12px;color:#fff;transform:scaleX(0.9890);transform-origin:0 0;">40</div>
<div class="t" style="left:117.3px;top:698.84px;font-size:12px;color:#d1d4dc;transform:scaleX(0.9700);transform-origin:0 0;">9</div>
<div class="t" style="left:239.5px;top:698.84px;font-size:12px;color:#d1d4dc;transform:scaleX(0.9700);transform-origin:0 0;">11</div>
<div class="t" style="left:363.0px;top:698.84px;font-size:12px;color:#d1d4dc;transform:scaleX(0.9700);transform-origin:0 0;">13</div>
<div class="t" style="left:487.0px;top:698.84px;font-size:12px;color:#d1d4dc;transform:scaleX(0.9700);transform-origin:0 0;">15</div>
<div class="t" style="left:611.0px;top:698.84px;font-size:12px;color:#d1d4dc;transform:scaleX(0.9700);transform-origin:0 0;">17</div>
<div class="t" style="left:735.0px;top:698.84px;font-size:12px;color:#d1d4dc;transform:scaleX(0.9700);transform-origin:0 0;">19</div>
<div class="t" style="left:859.0px;top:698.84px;font-size:12px;color:#d1d4dc;transform:scaleX(0.9700);transform-origin:0 0;">21</div>
<div class="t" style="left:983.0px;top:698.84px;font-size:12px;color:#d1d4dc;transform:scaleX(0.9700);transform-origin:0 0;">23</div>
<div class="t" style="left:1107.0px;top:698.84px;font-size:12px;color:#d1d4dc;transform:scaleX(0.9700);transform-origin:0 0;">25</div>
<div class="t" style="left:1231.0px;top:698.84px;font-size:12px;color:#d1d4dc;transform:scaleX(0.9700);transform-origin:0 0;">27</div>
<div class="t" style="left:1355.0px;top:698.84px;font-size:12px;color:#d1d4dc;transform:scaleX(0.9700);transform-origin:0 0;">29</div>
<div class="t" style="left:1439.9px;top:698.84px;font-size:12px;color:#d1d4dc;transform:scaleX(0.9700);transform-origin:0 0;">12:30</div>
<div class="t" style="left:1537.2px;top:698.84px;font-size:12px;color:#d1d4dc;font-weight:bold;-webkit-text-stroke:0;transform:scaleX(0.9700);transform-origin:0 0;">Feb</div>
<div class="t" style="left:1668.3px;top:698.84px;font-size:12px;color:#d1d4dc;transform:scaleX(0.9700);transform-origin:0 0;">3</div>
<div style="position:absolute;left:11px;top:692px;width:1798px;height:1px;background:#2a2e39"></div>
<svg width="20" height="10" viewBox="0 0 36 18" style="left:10px;top:732px" shape-rendering="geometricPrecision"><path fill="#d1d4dc" d="M14 18H7V7H0V0h14v18zM28 18h-8L27.5 0h8L28 18z"/><circle cx="20" cy="3.5" r="3.5" fill="#d1d4dc"/></svg>
<div class="t" style="left:32.9px;top:729.11px;font-size:13px;color:#d1d4dc;transform:scaleX(0.9883);transform-origin:0 0;">TradingView</div></div>
</body></html>
